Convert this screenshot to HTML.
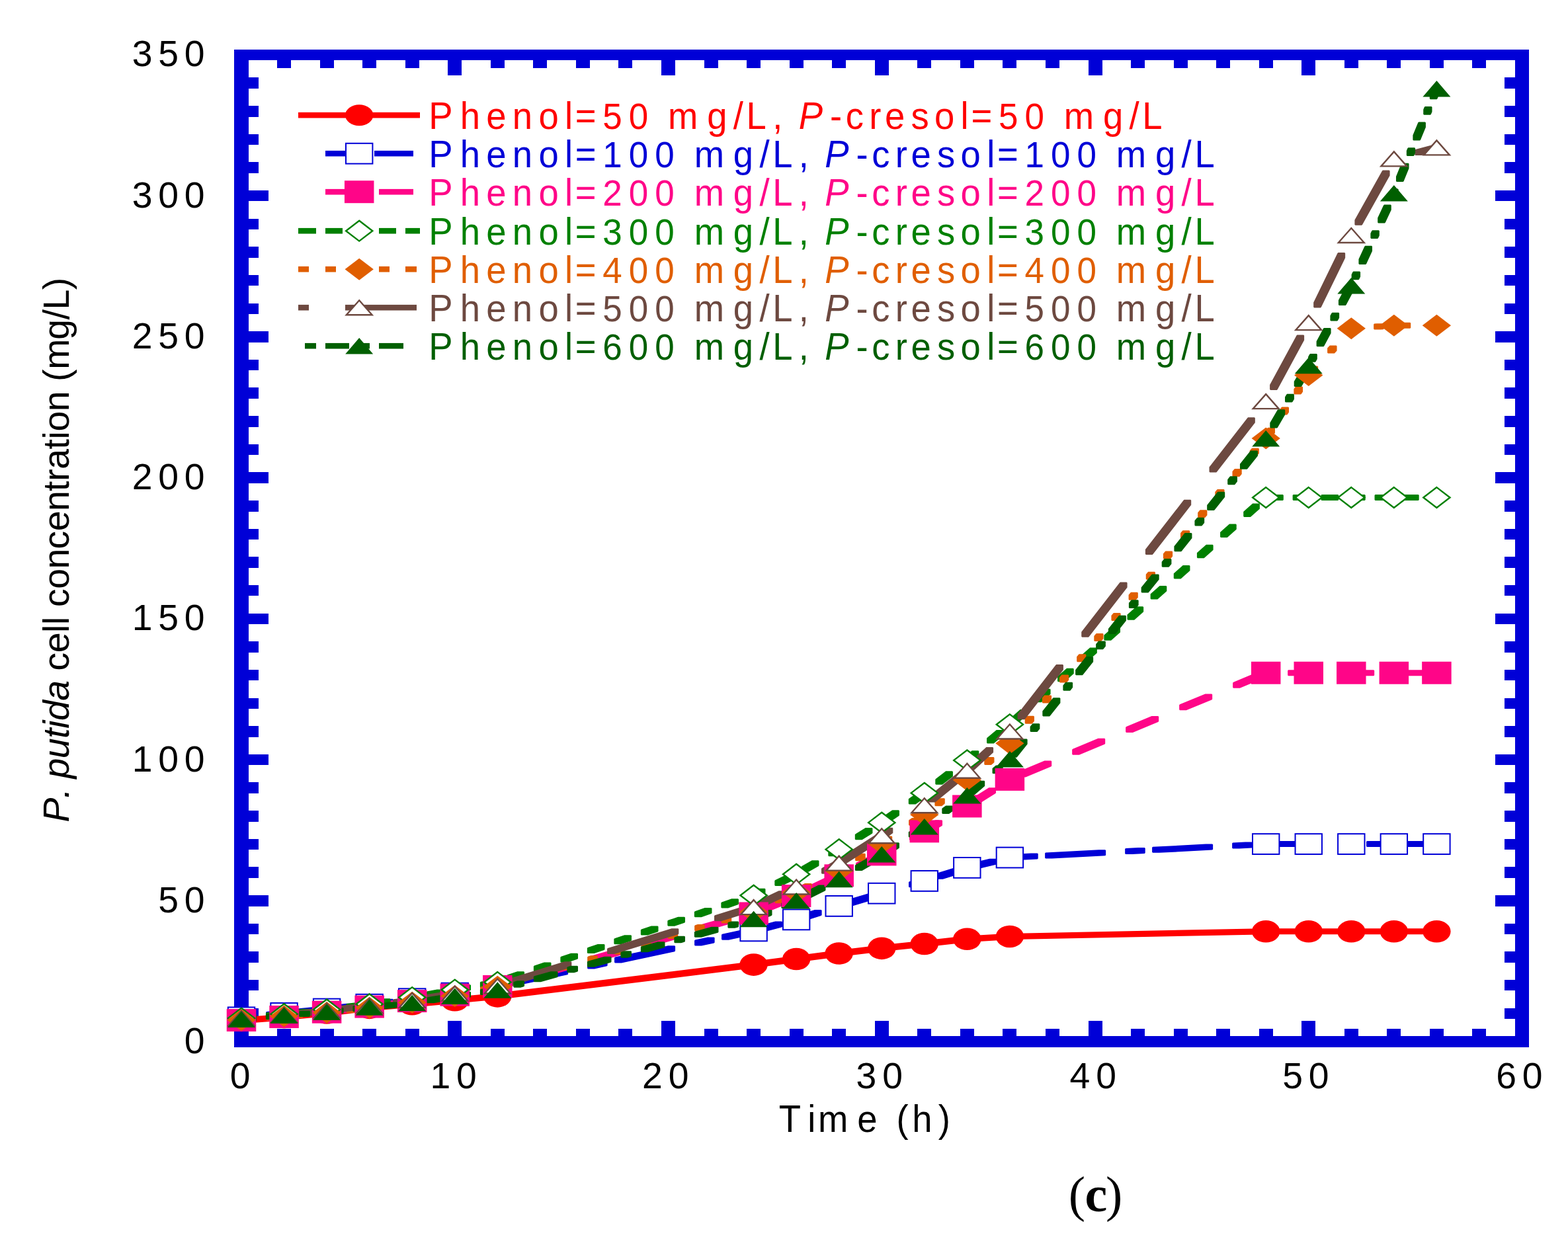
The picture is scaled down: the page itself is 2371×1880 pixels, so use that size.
<!DOCTYPE html><html><head><meta charset="utf-8"><title>P. putida cell concentration</title>
<style>html,body{margin:0;padding:0;background:#fff;overflow:hidden}svg{display:block}</style></head><body>
<svg width="2371" height="1880" viewBox="0 0 2371 1880">
<rect width="2371" height="1880" fill="#fff"/>
<g fill="#0000d7" shape-rendering="crispEdges">
<rect x="354" y="75" width="22" height="1509"/>
<rect x="2291" y="75" width="21" height="1509"/>
<rect x="354" y="75" width="1958" height="16"/>
<rect x="354" y="1567" width="1958" height="17"/>
<rect x="419.05" y="1556" width="21" height="11"/>
<rect x="419.05" y="91" width="21" height="12"/>
<rect x="483.6" y="1556" width="21" height="11"/>
<rect x="483.6" y="91" width="21" height="12"/>
<rect x="548.15" y="1556" width="21" height="11"/>
<rect x="548.15" y="91" width="21" height="12"/>
<rect x="612.7" y="1556" width="21" height="11"/>
<rect x="612.7" y="91" width="21" height="12"/>
<rect x="677.25" y="1544" width="21" height="23"/>
<rect x="677.25" y="91" width="21" height="23"/>
<rect x="741.8" y="1556" width="21" height="11"/>
<rect x="741.8" y="91" width="21" height="12"/>
<rect x="806.35" y="1556" width="21" height="11"/>
<rect x="806.35" y="91" width="21" height="12"/>
<rect x="870.9" y="1556" width="21" height="11"/>
<rect x="870.9" y="91" width="21" height="12"/>
<rect x="935.45" y="1556" width="21" height="11"/>
<rect x="935.45" y="91" width="21" height="12"/>
<rect x="1000" y="1544" width="21" height="23"/>
<rect x="1000" y="91" width="21" height="23"/>
<rect x="1064.55" y="1556" width="21" height="11"/>
<rect x="1064.55" y="91" width="21" height="12"/>
<rect x="1129.1" y="1556" width="21" height="11"/>
<rect x="1129.1" y="91" width="21" height="12"/>
<rect x="1193.65" y="1556" width="21" height="11"/>
<rect x="1193.65" y="91" width="21" height="12"/>
<rect x="1258.2" y="1556" width="21" height="11"/>
<rect x="1258.2" y="91" width="21" height="12"/>
<rect x="1322.75" y="1544" width="21" height="23"/>
<rect x="1322.75" y="91" width="21" height="23"/>
<rect x="1387.3" y="1556" width="21" height="11"/>
<rect x="1387.3" y="91" width="21" height="12"/>
<rect x="1451.85" y="1556" width="21" height="11"/>
<rect x="1451.85" y="91" width="21" height="12"/>
<rect x="1516.4" y="1556" width="21" height="11"/>
<rect x="1516.4" y="91" width="21" height="12"/>
<rect x="1580.95" y="1556" width="21" height="11"/>
<rect x="1580.95" y="91" width="21" height="12"/>
<rect x="1645.5" y="1544" width="21" height="23"/>
<rect x="1645.5" y="91" width="21" height="23"/>
<rect x="1710.05" y="1556" width="21" height="11"/>
<rect x="1710.05" y="91" width="21" height="12"/>
<rect x="1774.6" y="1556" width="21" height="11"/>
<rect x="1774.6" y="91" width="21" height="12"/>
<rect x="1839.15" y="1556" width="21" height="11"/>
<rect x="1839.15" y="91" width="21" height="12"/>
<rect x="1903.7" y="1556" width="21" height="11"/>
<rect x="1903.7" y="91" width="21" height="12"/>
<rect x="1968.25" y="1544" width="21" height="23"/>
<rect x="1968.25" y="91" width="21" height="23"/>
<rect x="2032.8" y="1556" width="21" height="11"/>
<rect x="2032.8" y="91" width="21" height="12"/>
<rect x="2097.35" y="1556" width="21" height="11"/>
<rect x="2097.35" y="91" width="21" height="12"/>
<rect x="2161.9" y="1556" width="21" height="11"/>
<rect x="2161.9" y="91" width="21" height="12"/>
<rect x="2226.45" y="1556" width="21" height="11"/>
<rect x="2226.45" y="91" width="21" height="12"/>
<rect x="376" y="1524.61" width="15" height="16.5"/>
<rect x="2275" y="1524.61" width="16" height="16.5"/>
<rect x="376" y="1481.96" width="15" height="16.5"/>
<rect x="2275" y="1481.96" width="16" height="16.5"/>
<rect x="376" y="1439.32" width="15" height="16.5"/>
<rect x="2275" y="1439.32" width="16" height="16.5"/>
<rect x="376" y="1396.68" width="15" height="16.5"/>
<rect x="2275" y="1396.68" width="16" height="16.5"/>
<rect x="376" y="1354.03" width="30" height="16.5"/>
<rect x="2261" y="1354.03" width="30" height="16.5"/>
<rect x="376" y="1311.39" width="15" height="16.5"/>
<rect x="2275" y="1311.39" width="16" height="16.5"/>
<rect x="376" y="1268.75" width="15" height="16.5"/>
<rect x="2275" y="1268.75" width="16" height="16.5"/>
<rect x="376" y="1226.11" width="15" height="16.5"/>
<rect x="2275" y="1226.11" width="16" height="16.5"/>
<rect x="376" y="1183.46" width="15" height="16.5"/>
<rect x="2275" y="1183.46" width="16" height="16.5"/>
<rect x="376" y="1140.82" width="30" height="16.5"/>
<rect x="2261" y="1140.82" width="30" height="16.5"/>
<rect x="376" y="1098.18" width="15" height="16.5"/>
<rect x="2275" y="1098.18" width="16" height="16.5"/>
<rect x="376" y="1055.53" width="15" height="16.5"/>
<rect x="2275" y="1055.53" width="16" height="16.5"/>
<rect x="376" y="1012.89" width="15" height="16.5"/>
<rect x="2275" y="1012.89" width="16" height="16.5"/>
<rect x="376" y="970.25" width="15" height="16.5"/>
<rect x="2275" y="970.25" width="16" height="16.5"/>
<rect x="376" y="927.6" width="30" height="16.5"/>
<rect x="2261" y="927.6" width="30" height="16.5"/>
<rect x="376" y="884.96" width="15" height="16.5"/>
<rect x="2275" y="884.96" width="16" height="16.5"/>
<rect x="376" y="842.32" width="15" height="16.5"/>
<rect x="2275" y="842.32" width="16" height="16.5"/>
<rect x="376" y="799.68" width="15" height="16.5"/>
<rect x="2275" y="799.68" width="16" height="16.5"/>
<rect x="376" y="757.03" width="15" height="16.5"/>
<rect x="2275" y="757.03" width="16" height="16.5"/>
<rect x="376" y="714.39" width="30" height="16.5"/>
<rect x="2261" y="714.39" width="30" height="16.5"/>
<rect x="376" y="671.75" width="15" height="16.5"/>
<rect x="2275" y="671.75" width="16" height="16.5"/>
<rect x="376" y="629.1" width="15" height="16.5"/>
<rect x="2275" y="629.1" width="16" height="16.5"/>
<rect x="376" y="586.46" width="15" height="16.5"/>
<rect x="2275" y="586.46" width="16" height="16.5"/>
<rect x="376" y="543.82" width="15" height="16.5"/>
<rect x="2275" y="543.82" width="16" height="16.5"/>
<rect x="376" y="501.17" width="30" height="16.5"/>
<rect x="2261" y="501.17" width="30" height="16.5"/>
<rect x="376" y="458.53" width="15" height="16.5"/>
<rect x="2275" y="458.53" width="16" height="16.5"/>
<rect x="376" y="415.89" width="15" height="16.5"/>
<rect x="2275" y="415.89" width="16" height="16.5"/>
<rect x="376" y="373.25" width="15" height="16.5"/>
<rect x="2275" y="373.25" width="16" height="16.5"/>
<rect x="376" y="330.6" width="15" height="16.5"/>
<rect x="2275" y="330.6" width="16" height="16.5"/>
<rect x="376" y="287.96" width="30" height="16.5"/>
<rect x="2261" y="287.96" width="30" height="16.5"/>
<rect x="376" y="245.32" width="15" height="16.5"/>
<rect x="2275" y="245.32" width="16" height="16.5"/>
<rect x="376" y="202.67" width="15" height="16.5"/>
<rect x="2275" y="202.67" width="16" height="16.5"/>
<rect x="376" y="160.03" width="15" height="16.5"/>
<rect x="2275" y="160.03" width="16" height="16.5"/>
<rect x="376" y="117.39" width="15" height="16.5"/>
<rect x="2275" y="117.39" width="16" height="16.5"/>
</g>
<g font-family="'Liberation Sans', Arial, sans-serif">
<text y="1593.5" fill="#000" font-size="56" transform="scale(0.98750,1)"><tspan x="282.29">0</tspan></text>
<text y="1380.5" fill="#000" font-size="56" transform="scale(0.98750,1)"><tspan x="242.24 282.29">50</tspan></text>
<text y="1167.5" fill="#000" font-size="56" transform="scale(0.98750,1)"><tspan x="202.2 242.24 282.29">100</tspan></text>
<text y="953.5" fill="#000" font-size="56" transform="scale(0.98750,1)"><tspan x="202.2 242.24 282.29">150</tspan></text>
<text y="740.5" fill="#000" font-size="56" transform="scale(0.98750,1)"><tspan x="202.2 242.24 282.29">200</tspan></text>
<text y="527.5" fill="#000" font-size="56" transform="scale(0.98750,1)"><tspan x="202.2 242.24 282.29">250</tspan></text>
<text y="314.5" fill="#000" font-size="56" transform="scale(0.98750,1)"><tspan x="202.2 242.24 282.29">300</tspan></text>
<text y="100.5" fill="#000" font-size="56" transform="scale(0.98750,1)"><tspan x="202.2 242.24 282.29">350</tspan></text>
<text y="1646.5" fill="#000" font-size="56" transform="scale(0.98750,1)"><tspan x="352.2">0</tspan></text>
<text y="1646.5" fill="#000" font-size="56" transform="scale(0.98750,1)"><tspan x="658.73 698.78">10</tspan></text>
<text y="1646.5" fill="#000" font-size="56" transform="scale(0.98750,1)"><tspan x="983.39 1023.44">20</tspan></text>
<text y="1646.5" fill="#000" font-size="56" transform="scale(0.98750,1)"><tspan x="1310.99 1351.03">30</tspan></text>
<text y="1646.5" fill="#000" font-size="56" transform="scale(0.98750,1)"><tspan x="1638.08 1678.12">40</tspan></text>
<text y="1646.5" fill="#000" font-size="56" transform="scale(0.98750,1)"><tspan x="1963.85 2003.89">50</tspan></text>
<text y="1646.5" fill="#000" font-size="56" transform="scale(0.98750,1)"><tspan x="2290.84 2330.88">60</tspan></text>
<text y="1712" fill="#000" font-size="56.5" transform="scale(0.96300,1)"><tspan x="1223.03 1268.13 1284.53 1346.03 1387.09 1407.61 1432.19 1473.26">Time (h)</tspan></text>
</g>
<g transform="translate(104,1243.75) rotate(-90)" font-family="'Liberation Sans', Arial, sans-serif">
<text y="0" fill="#000" font-size="55.5"><tspan x="0 36.2 51.28 66.36 96.55 126.74 141.82 153.88 184.07" font-style="italic">P. putida</tspan><tspan x="214.25 229.33 256.47 286.66 298.72 310.78 325.86 353 383.19 413.37 440.51 470.7 500.89 515.97 534.04 564.23 579.31 591.37 621.56 651.75 666.83 684.9 730.12 760.3 775.38 805.57"> cell concentration (mg/L)</tspan></text>
</g>
<path fill="#ff0000" d="M359.15 1540.02 L360.15 1539.02 L424.7 1533.9 L434.4 1533.9 L435.4 1534.9 L435.4 1541.9 L434.4 1542.9 L369.85 1548.02 L360.15 1548.02 L359.15 1547.02Z M423.7 1534.9 L424.7 1533.9 L489.25 1527.5 L498.95 1527.5 L499.95 1528.5 L499.95 1535.5 L498.95 1536.5 L434.4 1542.9 L424.7 1542.9 L423.7 1541.9Z M488.25 1528.5 L489.25 1527.5 L553.8 1519.83 L563.5 1519.83 L564.5 1520.83 L564.5 1527.83 L563.5 1528.83 L498.95 1536.5 L489.25 1536.5 L488.25 1535.5Z M552.8 1520.83 L553.8 1519.83 L618.35 1514.29 L628.05 1514.29 L629.05 1515.29 L629.05 1522.29 L628.05 1523.29 L563.5 1528.83 L553.8 1528.83 L552.8 1527.83Z M617.35 1515.29 L618.35 1514.29 L682.9 1508.32 L692.6 1508.32 L693.6 1509.32 L693.6 1516.32 L692.6 1517.32 L628.05 1523.29 L618.35 1523.29 L617.35 1522.29Z M681.9 1509.32 L682.9 1508.32 L747.45 1502.35 L757.15 1502.35 L758.15 1503.35 L758.15 1510.35 L757.15 1511.35 L692.6 1517.32 L682.9 1517.32 L681.9 1516.32Z M746.45 1503.35 L747.45 1502.35 L1134.75 1454.59 L1144.45 1454.59 L1145.45 1455.59 L1145.45 1462.59 L1144.45 1463.59 L757.15 1511.35 L747.45 1511.35 L746.45 1510.35Z M1133.75 1455.59 L1134.75 1454.59 L1199.3 1446.06 L1209 1446.06 L1210 1447.06 L1210 1454.06 L1209 1455.06 L1144.45 1463.59 L1134.75 1463.59 L1133.75 1462.59Z M1198.3 1447.06 L1199.3 1446.06 L1263.85 1437.53 L1273.55 1437.53 L1274.55 1438.53 L1274.55 1445.53 L1273.55 1446.53 L1209 1455.06 L1199.3 1455.06 L1198.3 1454.06Z M1262.85 1438.53 L1263.85 1437.53 L1328.4 1429.85 L1338.1 1429.85 L1339.1 1430.85 L1339.1 1437.85 L1338.1 1438.85 L1273.55 1446.53 L1263.85 1446.53 L1262.85 1445.53Z M1327.4 1430.85 L1328.4 1429.85 L1392.95 1423.03 L1402.65 1423.03 L1403.65 1424.03 L1403.65 1431.03 L1402.65 1432.03 L1338.1 1438.85 L1328.4 1438.85 L1327.4 1437.85Z M1391.95 1424.03 L1392.95 1423.03 L1457.5 1415.78 L1467.2 1415.78 L1468.2 1416.78 L1468.2 1423.78 L1467.2 1424.78 L1402.65 1432.03 L1392.95 1432.03 L1391.95 1431.03Z M1456.5 1416.78 L1457.5 1415.78 L1522.05 1411.94 L1531.75 1411.94 L1532.75 1412.94 L1532.75 1419.94 L1531.75 1420.94 L1467.2 1424.78 L1457.5 1424.78 L1456.5 1423.78Z M1521.05 1412.94 L1522.05 1411.94 L1909.35 1404.27 L1919.05 1404.27 L1920.05 1405.27 L1920.05 1412.27 L1919.05 1413.27 L1531.75 1420.94 L1522.05 1420.94 L1521.05 1419.94Z M1908.35 1405.27 L1909.35 1404.27 L1983.6 1404.27 L1984.6 1405.27 L1984.6 1412.27 L1983.6 1413.27 L1909.35 1413.27 L1908.35 1412.27Z M1972.9 1405.27 L1973.9 1404.27 L2048.15 1404.27 L2049.15 1405.27 L2049.15 1412.27 L2048.15 1413.27 L1973.9 1413.27 L1972.9 1412.27Z M2037.45 1405.27 L2038.45 1404.27 L2112.7 1404.27 L2113.7 1405.27 L2113.7 1412.27 L2112.7 1413.27 L2038.45 1413.27 L2037.45 1412.27Z M2102 1405.27 L2103 1404.27 L2177.25 1404.27 L2178.25 1405.27 L2178.25 1412.27 L2177.25 1413.27 L2103 1413.27 L2102 1412.27Z"/>
<path fill="#0000d7" d="M359.15 1535.33 L360.15 1534.33 L362.47 1534.1 L372.17 1534.1 L373.17 1535.1 L373.17 1542.1 L372.17 1543.1 L369.85 1543.33 L360.15 1543.33 L359.15 1542.33Z M402.16 1531.07 L403.16 1530.07 L422.01 1528.2 L431.71 1528.2 L432.71 1529.2 L432.71 1536.2 L431.71 1537.2 L412.86 1539.07 L403.16 1539.07 L402.16 1538.07Z M443.11 1527.01 L444.11 1526.01 L489.25 1521.53 L498.95 1521.53 L499.95 1522.53 L499.95 1529.53 L498.95 1530.53 L453.81 1535.01 L444.11 1535.01 L443.11 1534.01Z M488.25 1522.53 L489.25 1521.53 L524.45 1517.81 L534.15 1517.81 L535.15 1518.81 L535.15 1525.81 L534.15 1526.81 L498.95 1530.53 L489.25 1530.53 L488.25 1529.53Z M564.14 1514.21 L565.14 1513.21 L583.99 1510.72 L593.69 1510.72 L594.69 1511.72 L594.69 1518.72 L593.69 1519.72 L574.84 1522.21 L565.14 1522.21 L564.14 1521.21Z M605.09 1508.8 L606.09 1507.8 L618.35 1506.18 L628.05 1506.18 L629.05 1507.18 L629.05 1514.18 L628.05 1515.18 L615.79 1516.8 L606.09 1516.8 L605.09 1515.8Z M617.35 1507.18 L618.35 1506.18 L682.9 1497.65 L692.6 1497.65 L693.6 1498.65 L693.6 1505.65 L692.6 1506.65 L628.05 1515.18 L618.35 1515.18 L617.35 1514.18Z M681.9 1498.65 L682.9 1497.65 L686.43 1497.07 L696.13 1497.07 L697.13 1498.07 L697.13 1505.07 L696.13 1506.07 L692.6 1506.65 L682.9 1506.65 L681.9 1505.65Z M726.12 1491.35 L727.12 1490.35 L745.97 1487.24 L755.67 1487.24 L756.67 1488.24 L756.67 1495.24 L755.67 1496.24 L736.82 1499.35 L727.12 1499.35 L726.12 1498.35Z M767.07 1483.54 L768.07 1482.54 L848.41 1465.21 L858.11 1465.21 L859.11 1466.21 L859.11 1473.21 L858.11 1474.21 L777.77 1491.54 L768.07 1491.54 L767.07 1490.54Z M888.1 1457.42 L889.1 1456.42 L907.95 1452.36 L917.65 1452.36 L918.65 1453.36 L918.65 1460.36 L917.65 1461.36 L898.8 1465.42 L889.1 1465.42 L888.1 1464.42Z M929.05 1448.59 L930.05 1447.59 L1010.39 1430.25 L1020.09 1430.25 L1021.09 1431.25 L1021.09 1438.25 L1020.09 1439.25 L939.75 1456.59 L930.05 1456.59 L929.05 1455.59Z M1050.08 1422.47 L1051.08 1421.47 L1069.93 1417.4 L1079.63 1417.4 L1080.63 1418.4 L1080.63 1425.4 L1079.63 1426.4 L1060.78 1430.47 L1051.08 1430.47 L1050.08 1429.47Z M1091.03 1413.63 L1092.03 1412.63 L1134.75 1403.41 L1144.45 1403.41 L1145.45 1404.41 L1145.45 1411.41 L1144.45 1412.41 L1101.73 1421.63 L1092.03 1421.63 L1091.03 1420.63Z M1133.75 1404.41 L1134.75 1403.41 L1172.37 1393.47 L1182.07 1393.47 L1183.07 1394.47 L1183.07 1401.47 L1182.07 1402.47 L1144.45 1412.41 L1134.75 1412.41 L1133.75 1411.41Z M1212.06 1382.99 L1213.06 1381.99 L1231.91 1376.02 L1241.61 1376.02 L1242.61 1377.02 L1242.61 1384.02 L1241.61 1385.02 L1222.76 1390.99 L1213.06 1390.99 L1212.06 1389.99Z M1253.01 1370.01 L1254.01 1369.01 L1263.85 1365.89 L1273.55 1365.89 L1274.55 1366.89 L1274.55 1373.89 L1273.55 1374.89 L1263.71 1378.01 L1254.01 1378.01 L1253.01 1377.01Z M1262.85 1366.89 L1263.85 1365.89 L1328.4 1346.7 L1338.1 1346.7 L1339.1 1347.7 L1339.1 1354.7 L1338.1 1355.7 L1273.55 1374.89 L1263.85 1374.89 L1262.85 1373.89Z M1327.4 1347.7 L1328.4 1346.7 L1334.35 1344.97 L1344.05 1344.97 L1345.05 1345.97 L1345.05 1352.97 L1344.05 1353.97 L1338.1 1355.7 L1328.4 1355.7 L1327.4 1354.7Z M1374.04 1334.14 L1375.04 1333.14 L1392.95 1327.93 L1402.65 1327.93 L1403.65 1328.93 L1403.65 1335.93 L1402.65 1336.93 L1384.74 1342.14 L1375.04 1342.14 L1374.04 1341.14Z M1391.95 1328.93 L1392.95 1327.93 L1393.89 1327.64 L1403.59 1327.64 L1404.59 1328.64 L1404.59 1335.64 L1403.59 1336.64 L1402.65 1336.93 L1392.95 1336.93 L1391.95 1335.93Z M1414.99 1321.78 L1415.99 1320.78 L1457.5 1307.89 L1467.2 1307.89 L1468.2 1308.89 L1468.2 1315.89 L1467.2 1316.89 L1425.69 1329.78 L1415.99 1329.78 L1414.99 1328.78Z M1456.5 1308.89 L1457.5 1307.89 L1496.33 1298.66 L1506.03 1298.66 L1507.03 1299.66 L1507.03 1306.66 L1506.03 1307.66 L1467.2 1316.89 L1457.5 1316.89 L1456.5 1315.89Z M1539.17 1292.58 L1540.17 1291.58 L1559.02 1290.59 L1568.72 1290.59 L1569.72 1291.59 L1569.72 1298.59 L1568.72 1299.59 L1549.87 1300.58 L1540.17 1300.58 L1539.17 1299.58Z M1580.12 1290.42 L1581.12 1289.42 L1661.46 1285.17 L1671.16 1285.17 L1672.16 1286.17 L1672.16 1293.17 L1671.16 1294.17 L1590.82 1298.42 L1581.12 1298.42 L1580.12 1297.42Z M1701.15 1284.02 L1702.15 1283.02 L1721 1282.03 L1730.7 1282.03 L1731.7 1283.03 L1731.7 1290.03 L1730.7 1291.03 L1711.85 1292.02 L1702.15 1292.02 L1701.15 1291.02Z M1742.1 1281.86 L1743.1 1280.86 L1823.44 1276.61 L1833.14 1276.61 L1834.14 1277.61 L1834.14 1284.61 L1833.14 1285.61 L1752.8 1289.86 L1743.1 1289.86 L1742.1 1288.86Z M1863.13 1275.46 L1864.13 1274.46 L1882.98 1273.47 L1892.68 1273.47 L1893.68 1274.47 L1893.68 1281.47 L1892.68 1282.47 L1873.83 1283.46 L1864.13 1283.46 L1863.13 1282.46Z M1904.08 1273.3 L1905.08 1272.3 L1909.35 1272.07 L1919.05 1272.07 L1920.05 1273.07 L1920.05 1280.07 L1919.05 1281.07 L1914.78 1281.3 L1905.08 1281.3 L1904.08 1280.3Z M1908.35 1273.07 L1909.35 1272.07 L1983.6 1272.07 L1984.6 1273.07 L1984.6 1280.07 L1983.6 1281.07 L1909.35 1281.07 L1908.35 1280.07Z M1972.9 1273.07 L1973.9 1272.07 L1995.12 1272.07 L1996.12 1273.07 L1996.12 1280.07 L1995.12 1281.07 L1973.9 1281.07 L1972.9 1280.07Z M2025.11 1273.07 L2026.11 1272.07 L2048.15 1272.07 L2049.15 1273.07 L2049.15 1280.07 L2048.15 1281.07 L2026.11 1281.07 L2025.11 1280.07Z M2037.45 1273.07 L2038.45 1272.07 L2054.66 1272.07 L2055.66 1273.07 L2055.66 1280.07 L2054.66 1281.07 L2038.45 1281.07 L2037.45 1280.07Z M2066.06 1273.07 L2067.06 1272.07 L2112.7 1272.07 L2113.7 1273.07 L2113.7 1280.07 L2112.7 1281.07 L2067.06 1281.07 L2066.06 1280.07Z M2102 1273.07 L2103 1272.07 L2157.1 1272.07 L2158.1 1273.07 L2158.1 1280.07 L2157.1 1281.07 L2103 1281.07 L2102 1280.07Z"/>
<path fill="#ff0588" d="M359.15 1539.59 L360.15 1538.59 L361.48 1538.49 L371.18 1538.49 L372.18 1539.49 L372.18 1546.49 L371.18 1547.49 L369.85 1547.59 L360.15 1547.59 L359.15 1546.59Z M403.12 1536.11 L404.12 1535.11 L424.7 1533.47 L434.4 1533.47 L435.4 1534.47 L435.4 1541.47 L434.4 1542.47 L413.82 1544.11 L404.12 1544.11 L403.12 1543.11Z M423.7 1534.47 L424.7 1533.47 L442.47 1531.48 L452.17 1531.48 L453.17 1532.48 L453.17 1539.48 L452.17 1540.48 L434.4 1542.47 L424.7 1542.47 L423.7 1541.47Z M484.11 1527.69 L485.11 1526.69 L489.25 1526.22 L498.95 1526.22 L499.95 1527.22 L499.95 1534.22 L498.95 1535.22 L494.81 1535.69 L485.11 1535.69 L484.11 1534.69Z M488.25 1527.22 L489.25 1526.22 L523.46 1521.93 L533.16 1521.93 L534.16 1522.93 L534.16 1529.93 L533.16 1530.93 L498.95 1535.22 L489.25 1535.22 L488.25 1534.22Z M565.1 1517.5 L566.1 1516.5 L604.45 1511.43 L614.15 1511.43 L615.15 1512.43 L615.15 1519.43 L614.15 1520.43 L575.8 1525.5 L566.1 1525.5 L565.1 1524.5Z M646.09 1506.42 L647.09 1505.42 L682.9 1500.21 L692.6 1500.21 L693.6 1501.21 L693.6 1508.21 L692.6 1509.21 L656.79 1514.42 L647.09 1514.42 L646.09 1513.42Z M681.9 1501.21 L682.9 1500.21 L685.44 1499.71 L695.14 1499.71 L696.14 1500.71 L696.14 1507.71 L695.14 1508.71 L692.6 1509.21 L682.9 1509.21 L681.9 1508.21Z M727.08 1492.26 L728.08 1491.26 L747.45 1487.42 L757.15 1487.42 L758.15 1488.42 L758.15 1495.42 L757.15 1496.42 L737.78 1500.26 L728.08 1500.26 L727.08 1499.26Z M746.45 1488.42 L747.45 1487.42 L766.43 1482.01 L776.13 1482.01 L777.13 1483.01 L777.13 1490.01 L776.13 1491.01 L757.15 1496.42 L747.45 1496.42 L746.45 1495.42Z M808.07 1470.85 L809.07 1469.85 L847.42 1458.91 L857.12 1458.91 L858.12 1459.91 L858.12 1466.91 L857.12 1467.91 L818.77 1478.85 L809.07 1478.85 L808.07 1477.85Z M889.06 1447.75 L890.06 1446.75 L928.41 1435.82 L938.11 1435.82 L939.11 1436.82 L939.11 1443.82 L938.11 1444.82 L899.76 1455.75 L890.06 1455.75 L889.06 1454.75Z M970.05 1424.66 L971.05 1423.66 L1009.4 1412.72 L1019.1 1412.72 L1020.1 1413.72 L1020.1 1420.72 L1019.1 1421.72 L980.75 1432.66 L971.05 1432.66 L970.05 1431.66Z M1051.04 1401.56 L1052.04 1400.56 L1090.39 1389.62 L1100.09 1389.62 L1101.09 1390.62 L1101.09 1397.62 L1100.09 1398.62 L1061.74 1409.56 L1052.04 1409.56 L1051.04 1408.56Z M1132.03 1378.46 L1133.03 1377.46 L1134.75 1376.97 L1144.45 1376.97 L1145.45 1377.97 L1145.45 1384.97 L1144.45 1385.97 L1142.73 1386.46 L1133.03 1386.46 L1132.03 1385.46Z M1133.75 1377.97 L1134.75 1376.97 L1171.38 1361.97 L1181.08 1361.97 L1182.08 1362.97 L1182.08 1369.97 L1181.08 1370.97 L1144.45 1385.97 L1134.75 1385.97 L1133.75 1384.97Z M1213.02 1344.53 L1214.02 1343.53 L1252.37 1325.29 L1262.07 1325.29 L1263.07 1326.29 L1263.07 1333.29 L1262.07 1334.29 L1223.72 1352.53 L1214.02 1352.53 L1213.02 1351.53Z M1294.01 1305.39 L1295.01 1304.39 L1328.4 1287.85 L1338.1 1287.85 L1339.1 1288.85 L1339.1 1295.85 L1338.1 1296.85 L1304.71 1313.39 L1295.01 1313.39 L1294.01 1312.39Z M1327.4 1288.85 L1328.4 1287.85 L1333.36 1285.16 L1343.06 1285.16 L1344.06 1286.16 L1344.06 1293.16 L1343.06 1294.16 L1338.1 1296.85 L1328.4 1296.85 L1327.4 1295.85Z M1375 1263.07 L1376 1262.07 L1392.95 1252.88 L1402.65 1252.88 L1403.65 1253.88 L1403.65 1260.88 L1402.65 1261.88 L1385.7 1271.07 L1376 1271.07 L1375 1270.07Z M1391.95 1253.88 L1392.95 1252.88 L1414.35 1240.3 L1424.05 1240.3 L1425.05 1241.3 L1425.05 1248.3 L1424.05 1249.3 L1402.65 1261.88 L1392.95 1261.88 L1391.95 1260.88Z M1455.99 1216.23 L1456.99 1215.23 L1457.5 1214.93 L1467.2 1214.93 L1468.2 1215.93 L1468.2 1222.93 L1467.2 1223.93 L1466.69 1224.23 L1456.99 1224.23 L1455.99 1223.23Z M1456.5 1215.93 L1457.5 1214.93 L1495.34 1191.18 L1505.04 1191.18 L1506.04 1192.18 L1506.04 1199.18 L1505.04 1200.18 L1467.2 1223.93 L1457.5 1223.93 L1456.5 1222.93Z M1540.16 1167.47 L1541.16 1166.47 L1579.51 1150.51 L1589.21 1150.51 L1590.21 1151.51 L1590.21 1158.51 L1589.21 1159.51 L1550.86 1175.47 L1541.16 1175.47 L1540.16 1174.47Z M1621.15 1133.76 L1622.15 1132.76 L1660.5 1116.8 L1670.2 1116.8 L1671.2 1117.8 L1671.2 1124.8 L1670.2 1125.8 L1631.85 1141.76 L1622.15 1141.76 L1621.15 1140.76Z M1702.14 1100.05 L1703.14 1099.05 L1741.49 1083.09 L1751.19 1083.09 L1752.19 1084.09 L1752.19 1091.09 L1751.19 1092.09 L1712.84 1108.05 L1703.14 1108.05 L1702.14 1107.05Z M1783.13 1066.35 L1784.13 1065.35 L1822.48 1049.38 L1832.18 1049.38 L1833.18 1050.38 L1833.18 1057.38 L1832.18 1058.38 L1793.83 1074.35 L1784.13 1074.35 L1783.13 1073.35Z M1864.12 1032.64 L1865.12 1031.64 L1903.47 1015.68 L1913.17 1015.68 L1914.17 1016.68 L1914.17 1023.68 L1913.17 1024.68 L1874.82 1040.64 L1865.12 1040.64 L1864.12 1039.64Z M1947.15 1014.23 L1948.15 1013.23 L1983.6 1013.23 L1984.6 1014.23 L1984.6 1021.23 L1983.6 1022.23 L1948.15 1022.23 L1947.15 1021.23Z M1972.9 1014.23 L1973.9 1013.23 L1996.2 1013.23 L1997.2 1014.23 L1997.2 1021.23 L1996.2 1022.23 L1973.9 1022.23 L1972.9 1021.23Z M2028.14 1014.23 L2029.14 1013.23 L2048.15 1013.23 L2049.15 1014.23 L2049.15 1021.23 L2048.15 1022.23 L2029.14 1022.23 L2028.14 1021.23Z M2037.45 1014.23 L2038.45 1013.23 L2077.19 1013.23 L2078.19 1014.23 L2078.19 1021.23 L2077.19 1022.23 L2038.45 1022.23 L2037.45 1021.23Z M2109.13 1014.23 L2110.13 1013.23 L2158.18 1013.23 L2159.18 1014.23 L2159.18 1021.23 L2158.18 1022.23 L2110.13 1022.23 L2109.13 1021.23Z"/>
<path fill="#008000" d="M361.43 1536.38 L362.43 1535.38 L377.38 1533.9 L387.07 1533.9 L388.07 1534.9 L388.07 1541.9 L387.07 1542.9 L372.12 1544.38 L362.43 1544.38 L361.43 1543.38Z M401.92 1532.37 L402.92 1531.37 L417.87 1529.89 L427.57 1529.89 L428.57 1530.89 L428.57 1537.89 L427.57 1538.89 L412.62 1540.37 L402.92 1540.37 L401.92 1539.37Z M442.42 1528.23 L443.42 1527.23 L458.37 1525.65 L468.06 1525.65 L469.06 1526.65 L469.06 1533.65 L468.06 1534.65 L453.12 1536.23 L443.42 1536.23 L442.42 1535.23Z M482.91 1523.95 L483.91 1522.95 L489.25 1522.39 L498.95 1522.39 L499.95 1523.39 L499.95 1530.39 L498.95 1531.39 L493.61 1531.95 L483.91 1531.95 L482.91 1530.95Z M488.25 1523.39 L489.25 1522.39 L498.86 1521.18 L508.56 1521.18 L509.56 1522.18 L509.56 1529.18 L508.56 1530.18 L498.95 1531.39 L489.25 1531.39 L488.25 1530.39Z M523.4 1518.97 L524.4 1517.97 L539.36 1516.1 L549.05 1516.1 L550.05 1517.1 L550.05 1524.1 L549.05 1525.1 L534.11 1526.97 L524.4 1526.97 L523.4 1525.97Z M563.9 1513.53 L564.9 1512.53 L579.85 1510.15 L589.55 1510.15 L590.55 1511.15 L590.55 1518.15 L589.55 1519.15 L574.6 1521.53 L564.9 1521.53 L563.9 1520.53Z M604.39 1507.1 L605.39 1506.1 L618.35 1504.05 L628.05 1504.05 L629.05 1505.05 L629.05 1512.05 L628.05 1513.05 L615.1 1515.1 L605.39 1515.1 L604.39 1514.1Z M617.35 1505.05 L618.35 1504.05 L620.35 1503.69 L630.04 1503.69 L631.04 1504.69 L631.04 1511.69 L630.04 1512.69 L628.05 1513.05 L618.35 1513.05 L617.35 1512.05Z M644.89 1500.14 L645.89 1499.14 L660.84 1496.47 L670.54 1496.47 L671.54 1497.47 L671.54 1504.47 L670.54 1505.47 L655.59 1508.14 L645.89 1508.14 L644.89 1507.14Z M685.38 1492.91 L686.38 1491.91 L701.34 1489.25 L711.03 1489.25 L712.03 1490.25 L712.03 1497.25 L711.03 1498.25 L696.09 1500.91 L686.38 1500.91 L685.38 1499.91Z M725.88 1485.69 L726.88 1484.69 L741.83 1482.03 L751.53 1482.03 L752.53 1483.03 L752.53 1490.03 L751.53 1491.03 L736.58 1493.69 L726.88 1493.69 L725.88 1492.69Z M766.38 1475.27 L767.38 1474.27 L782.33 1469.2 L792.02 1469.2 L793.02 1470.2 L793.02 1477.2 L792.02 1478.2 L777.08 1483.27 L767.38 1483.27 L766.38 1482.27Z M806.87 1461.53 L807.87 1460.53 L822.82 1455.46 L832.52 1455.46 L833.52 1456.46 L833.52 1463.46 L832.52 1464.46 L817.57 1469.53 L807.87 1469.53 L806.87 1468.53Z M847.37 1447.8 L848.37 1446.8 L863.32 1441.73 L873.01 1441.73 L874.01 1442.73 L874.01 1449.73 L873.01 1450.73 L858.07 1455.8 L848.37 1455.8 L847.37 1454.8Z M887.86 1434.07 L888.86 1433.07 L903.81 1428 L913.51 1428 L914.51 1429 L914.51 1436 L913.51 1437 L898.56 1442.07 L888.86 1442.07 L887.86 1441.07Z M928.36 1420.34 L929.36 1419.34 L944.3 1414.27 L954 1414.27 L955 1415.27 L955 1422.27 L954 1423.27 L939.05 1428.34 L929.36 1428.34 L928.36 1427.34Z M968.85 1406.6 L969.85 1405.6 L984.8 1400.53 L994.5 1400.53 L995.5 1401.53 L995.5 1408.53 L994.5 1409.53 L979.55 1414.6 L969.85 1414.6 L968.85 1413.6Z M1009.35 1392.87 L1010.35 1391.87 L1025.3 1386.8 L1034.99 1386.8 L1035.99 1387.8 L1035.99 1394.8 L1034.99 1395.8 L1020.04 1400.87 L1010.35 1400.87 L1009.35 1399.87Z M1049.84 1379.14 L1050.84 1378.14 L1065.79 1373.07 L1075.49 1373.07 L1076.49 1374.07 L1076.49 1381.07 L1075.49 1382.07 L1060.54 1387.14 L1050.84 1387.14 L1049.84 1386.14Z M1090.34 1365.41 L1091.34 1364.41 L1106.29 1359.34 L1115.98 1359.34 L1116.98 1360.34 L1116.98 1367.34 L1115.98 1368.34 L1101.04 1373.41 L1091.34 1373.41 L1090.34 1372.41Z M1130.83 1351.67 L1131.83 1350.67 L1134.75 1349.68 L1144.45 1349.68 L1145.45 1350.68 L1145.45 1357.68 L1144.45 1358.68 L1141.53 1359.67 L1131.83 1359.67 L1130.83 1358.67Z M1133.75 1350.68 L1134.75 1349.68 L1146.78 1343.72 L1156.48 1343.72 L1157.48 1344.72 L1157.48 1351.72 L1156.48 1352.72 L1144.45 1358.68 L1134.75 1358.68 L1133.75 1357.68Z M1171.33 1332.07 L1172.33 1331.07 L1187.28 1323.66 L1196.97 1323.66 L1197.97 1324.66 L1197.97 1331.66 L1196.97 1332.66 L1182.03 1340.07 L1172.33 1340.07 L1171.33 1339.07Z M1211.82 1310.84 L1212.82 1309.84 L1227.77 1301.15 L1237.47 1301.15 L1238.47 1302.15 L1238.47 1309.15 L1237.47 1310.15 L1222.52 1318.84 L1212.82 1318.84 L1211.82 1317.84Z M1252.32 1287.3 L1253.32 1286.3 L1263.85 1280.17 L1273.55 1280.17 L1274.55 1281.17 L1274.55 1288.17 L1273.55 1289.17 L1263.02 1295.3 L1253.32 1295.3 L1252.32 1294.3Z M1262.85 1281.17 L1263.85 1280.17 L1268.27 1277.4 L1277.96 1277.4 L1278.96 1278.4 L1278.96 1285.4 L1277.96 1286.4 L1273.55 1289.17 L1263.85 1289.17 L1262.85 1288.17Z M1292.81 1262.37 L1293.81 1261.37 L1308.76 1251.99 L1318.46 1251.99 L1319.46 1252.99 L1319.46 1259.99 L1318.46 1260.99 L1303.51 1270.37 L1293.81 1270.37 L1292.81 1269.37Z M1333.31 1236.57 L1334.31 1235.57 L1349.26 1225.2 L1358.95 1225.2 L1359.95 1226.2 L1359.95 1233.2 L1358.95 1234.2 L1344.01 1244.57 L1334.31 1244.57 L1333.31 1243.57Z M1373.8 1208.48 L1374.8 1207.48 L1389.75 1197.11 L1399.45 1197.11 L1400.45 1198.11 L1400.45 1205.11 L1399.45 1206.11 L1384.5 1216.48 L1374.8 1216.48 L1373.8 1215.48Z M1414.3 1178.77 L1415.3 1177.77 L1430.24 1166.31 L1439.94 1166.31 L1440.94 1167.31 L1440.94 1174.31 L1439.94 1175.31 L1424.99 1186.77 L1415.3 1186.77 L1414.3 1185.77Z M1454.79 1147.73 L1455.79 1146.73 L1457.5 1145.42 L1467.2 1145.42 L1468.2 1146.42 L1468.2 1153.42 L1467.2 1154.42 L1465.49 1155.73 L1455.79 1155.73 L1454.79 1154.73Z M1456.5 1146.42 L1457.5 1145.42 L1469.64 1135.24 L1479.34 1135.24 L1480.34 1136.24 L1480.34 1143.24 L1479.34 1144.24 L1467.2 1154.42 L1457.5 1154.42 L1456.5 1153.42Z M1492.06 1116.59 L1493.06 1115.59 L1506.77 1104.09 L1516.47 1104.09 L1517.47 1105.09 L1517.47 1112.09 L1516.47 1113.09 L1502.76 1124.59 L1493.06 1124.59 L1492.06 1123.59Z M1528.75 1085.44 L1529.75 1084.44 L1542.73 1072.94 L1552.43 1072.94 L1553.43 1073.94 L1553.43 1080.94 L1552.43 1081.94 L1539.45 1093.44 L1529.75 1093.44 L1528.75 1092.44Z M1563.9 1054.29 L1564.9 1053.29 L1577.87 1041.79 L1587.57 1041.79 L1588.57 1042.79 L1588.57 1049.79 L1587.57 1050.79 L1574.6 1062.29 L1564.9 1062.29 L1563.9 1061.29Z M1599.04 1023.14 L1600.04 1022.14 L1613.02 1010.64 L1622.72 1010.64 L1623.72 1011.64 L1623.72 1018.64 L1622.72 1019.64 L1609.74 1031.14 L1600.04 1031.14 L1599.04 1030.14Z M1634.19 991.99 L1635.19 990.99 L1648.16 979.49 L1657.86 979.49 L1658.86 980.49 L1658.86 987.49 L1657.86 988.49 L1644.89 999.99 L1635.19 999.99 L1634.19 998.99Z M1669.33 960.84 L1670.33 959.84 L1683.31 948.34 L1693.01 948.34 L1694.01 949.34 L1694.01 956.34 L1693.01 957.34 L1680.03 968.84 L1670.33 968.84 L1669.33 967.84Z M1704.48 929.69 L1705.48 928.69 L1718.45 917.19 L1728.15 917.19 L1729.15 918.19 L1729.15 925.19 L1728.15 926.19 L1715.18 937.69 L1705.48 937.69 L1704.48 936.69Z M1739.62 898.54 L1740.62 897.54 L1753.6 886.04 L1763.3 886.04 L1764.3 887.04 L1764.3 894.04 L1763.3 895.04 L1750.32 906.54 L1740.62 906.54 L1739.62 905.54Z M1774.77 867.39 L1775.77 866.39 L1788.74 854.89 L1798.44 854.89 L1799.44 855.89 L1799.44 862.89 L1798.44 863.89 L1785.47 875.39 L1775.77 875.39 L1774.77 874.39Z M1809.91 836.24 L1810.91 835.24 L1823.89 823.74 L1833.59 823.74 L1834.59 824.74 L1834.59 831.74 L1833.59 832.74 L1820.61 844.24 L1810.91 844.24 L1809.91 843.24Z M1845.06 805.09 L1846.06 804.09 L1859.03 792.59 L1868.73 792.59 L1869.73 793.59 L1869.73 800.59 L1868.73 801.59 L1855.76 813.09 L1846.06 813.09 L1845.06 812.09Z M1880.2 773.94 L1881.2 772.94 L1894.18 761.44 L1903.88 761.44 L1904.88 762.44 L1904.88 769.44 L1903.88 770.44 L1890.9 781.94 L1881.2 781.94 L1880.2 780.94Z M1914.15 748.99 L1915.15 747.99 L1939.8 747.99 L1940.8 748.99 L1940.8 755.99 L1939.8 756.99 L1915.15 756.99 L1914.15 755.99Z M1954.64 748.99 L1955.64 747.99 L1980.3 747.99 L1981.3 748.99 L1981.3 755.99 L1980.3 756.99 L1955.64 756.99 L1954.64 755.99Z M1997.55 748.99 L1998.55 747.99 L2023.2 747.99 L2024.2 748.99 L2024.2 755.99 L2023.2 756.99 L1998.55 756.99 L1997.55 755.99Z M2038.05 748.99 L2039.05 747.99 L2063.7 747.99 L2064.7 748.99 L2064.7 755.99 L2063.7 756.99 L2039.05 756.99 L2038.05 755.99Z M2078.54 748.99 L2079.54 747.99 L2104.19 747.99 L2105.19 748.99 L2105.19 755.99 L2104.19 756.99 L2079.54 756.99 L2078.54 755.99Z M2119.03 748.99 L2120.03 747.99 L2144.68 747.99 L2145.68 748.99 L2145.68 755.99 L2144.68 756.99 L2120.03 756.99 L2119.03 755.99Z M2159.53 748.99 L2160.53 747.99 L2177.25 747.99 L2178.25 748.99 L2178.25 755.99 L2177.25 756.99 L2160.53 756.99 L2159.53 755.99Z"/>
<path fill="#e05e00" d="M361.74 1538.94 L362.74 1537.94 L366.63 1537.61 L376.33 1537.61 L377.33 1538.61 L377.33 1545.61 L376.33 1546.61 L372.44 1546.94 L362.74 1546.94 L361.74 1545.94Z M402.23 1535.46 L403.23 1534.46 L407.13 1534.13 L416.83 1534.13 L417.83 1535.13 L417.83 1542.13 L416.83 1543.13 L412.93 1543.46 L403.23 1543.46 L402.23 1542.46Z M442.73 1531.99 L443.73 1530.99 L447.62 1530.65 L457.32 1530.65 L458.32 1531.65 L458.32 1538.65 L457.32 1539.65 L453.43 1539.99 L443.73 1539.99 L442.73 1538.99Z M483.22 1528.51 L484.22 1527.51 L488.12 1527.17 L497.82 1527.17 L498.82 1528.17 L498.82 1535.17 L497.82 1536.17 L493.92 1536.51 L484.22 1536.51 L483.22 1535.51Z M523.72 1524.1 L524.72 1523.1 L528.62 1522.66 L538.32 1522.66 L539.32 1523.66 L539.32 1530.66 L538.32 1531.66 L534.41 1532.1 L524.72 1532.1 L523.72 1531.1Z M564.21 1519.4 L565.21 1518.4 L569.11 1517.91 L578.81 1517.91 L579.81 1518.91 L579.81 1525.91 L578.81 1526.91 L574.91 1527.4 L565.21 1527.4 L564.21 1526.4Z M604.71 1514.31 L605.71 1513.31 L609.61 1512.82 L619.3 1512.82 L620.3 1513.82 L620.3 1520.82 L619.3 1521.82 L615.4 1522.31 L605.71 1522.31 L604.71 1521.31Z M645.2 1508.49 L646.2 1507.49 L650.1 1506.9 L659.8 1506.9 L660.8 1507.9 L660.8 1514.9 L659.8 1515.9 L655.9 1516.49 L646.2 1516.49 L645.2 1515.49Z M685.7 1502.09 L686.7 1501.09 L690.6 1500.24 L700.29 1500.24 L701.29 1501.24 L701.29 1508.24 L700.29 1509.24 L696.39 1510.09 L686.7 1510.09 L685.7 1509.09Z M726.19 1493.26 L727.19 1492.26 L731.09 1491.41 L740.79 1491.41 L741.79 1492.41 L741.79 1499.41 L740.79 1500.41 L736.89 1501.26 L727.19 1501.26 L726.19 1500.26Z M766.68 1482.94 L767.68 1481.94 L771.59 1480.8 L781.28 1480.8 L782.28 1481.8 L782.28 1488.8 L781.28 1489.8 L777.38 1490.94 L767.68 1490.94 L766.68 1489.94Z M807.18 1471.13 L808.18 1470.13 L812.08 1468.99 L821.78 1468.99 L822.78 1469.99 L822.78 1476.99 L821.78 1477.99 L817.88 1479.13 L808.18 1479.13 L807.18 1478.13Z M847.67 1459.31 L848.67 1458.31 L852.58 1457.17 L862.27 1457.17 L863.27 1458.17 L863.27 1465.17 L862.27 1466.17 L858.38 1467.31 L848.67 1467.31 L847.67 1466.31Z M888.17 1447.5 L889.17 1446.5 L893.07 1445.36 L902.77 1445.36 L903.77 1446.36 L903.77 1453.36 L902.77 1454.36 L898.87 1455.5 L889.17 1455.5 L888.17 1454.5Z M928.66 1435.68 L929.66 1434.68 L933.57 1433.54 L943.26 1433.54 L944.26 1434.54 L944.26 1441.54 L943.26 1442.54 L939.37 1443.68 L929.66 1443.68 L928.66 1442.68Z M969.16 1423.87 L970.16 1422.87 L974.06 1421.73 L983.76 1421.73 L984.76 1422.73 L984.76 1429.73 L983.76 1430.73 L979.86 1431.87 L970.16 1431.87 L969.16 1430.87Z M1009.65 1412.05 L1010.65 1411.05 L1014.55 1409.91 L1024.26 1409.91 L1025.26 1410.91 L1025.26 1417.91 L1024.26 1418.91 L1020.36 1420.05 L1010.65 1420.05 L1009.65 1419.05Z M1050.15 1400.23 L1051.15 1399.23 L1055.05 1398.1 L1064.75 1398.1 L1065.75 1399.1 L1065.75 1406.1 L1064.75 1407.1 L1060.85 1408.23 L1051.15 1408.23 L1050.15 1407.23Z M1090.64 1388.42 L1091.64 1387.42 L1095.55 1386.28 L1105.24 1386.28 L1106.24 1387.28 L1106.24 1394.28 L1105.24 1395.28 L1101.35 1396.42 L1091.64 1396.42 L1090.64 1395.42Z M1131.14 1376.6 L1132.14 1375.6 L1134.75 1374.84 L1144.45 1374.84 L1145.45 1375.84 L1145.45 1382.84 L1144.45 1383.84 L1141.84 1384.6 L1132.14 1384.6 L1131.14 1383.6Z M1133.75 1375.84 L1134.75 1374.84 L1136.04 1374.25 L1145.74 1374.25 L1146.74 1375.25 L1146.74 1382.25 L1145.74 1383.25 L1144.45 1383.84 L1134.75 1383.84 L1133.75 1382.84Z M1171.63 1358.32 L1172.63 1357.32 L1176.54 1355.52 L1186.23 1355.52 L1187.23 1356.52 L1187.23 1363.52 L1186.23 1364.52 L1182.34 1366.32 L1172.63 1366.32 L1171.63 1365.32Z M1212.13 1339.05 L1213.13 1338.05 L1217.03 1336.09 L1226.73 1336.09 L1227.73 1337.09 L1227.73 1344.09 L1226.73 1345.09 L1222.83 1347.05 L1213.13 1347.05 L1212.13 1346.05Z M1252.62 1318.72 L1253.62 1317.72 L1257.53 1315.76 L1267.22 1315.76 L1268.22 1316.76 L1268.22 1323.76 L1267.22 1324.76 L1263.33 1326.72 L1253.62 1326.72 L1252.62 1325.72Z M1293.12 1294.19 L1294.12 1293.19 L1298.02 1290.69 L1307.72 1290.69 L1308.72 1291.69 L1308.72 1298.69 L1307.72 1299.69 L1303.82 1302.19 L1294.12 1302.19 L1293.12 1301.19Z M1333.62 1268.03 L1334.62 1267.03 L1338.52 1264.4 L1348.21 1264.4 L1349.21 1265.4 L1349.21 1272.4 L1348.21 1273.4 L1344.32 1276.03 L1334.62 1276.03 L1333.62 1275.03Z M1374.11 1240.74 L1375.11 1239.74 L1379.01 1237.12 L1388.71 1237.12 L1389.71 1238.12 L1389.71 1245.12 L1388.71 1246.12 L1384.81 1248.74 L1375.11 1248.74 L1374.11 1247.74Z M1413.4 1211.3 L1414.4 1210.3 L1418.09 1207.3 L1427.79 1207.3 L1428.79 1208.3 L1428.79 1215.3 L1427.79 1216.3 L1424.1 1219.3 L1414.4 1219.3 L1413.4 1218.3Z M1451.73 1180.15 L1452.73 1179.15 L1456.42 1176.15 L1466.12 1176.15 L1467.12 1177.15 L1467.12 1184.15 L1466.12 1185.15 L1462.43 1188.15 L1452.73 1188.15 L1451.73 1187.15Z M1488.26 1149 L1489.26 1148 L1492.75 1145 L1502.45 1145 L1503.45 1146 L1503.45 1153 L1502.45 1154 L1498.96 1157 L1489.26 1157 L1488.26 1156Z M1523.56 1117.85 L1526.08 1114.85 L1527.08 1113.85 L1536.78 1113.85 L1537.78 1114.85 L1537.78 1121.85 L1535.26 1124.85 L1534.26 1125.85 L1524.56 1125.85 L1523.56 1124.85Z M1549.71 1086.7 L1552.23 1083.7 L1553.23 1082.7 L1562.93 1082.7 L1563.93 1083.7 L1563.93 1090.7 L1561.41 1093.7 L1560.41 1094.7 L1550.71 1094.7 L1549.71 1093.7Z M1575.86 1055.55 L1578.37 1052.55 L1579.37 1051.55 L1589.07 1051.55 L1590.07 1052.55 L1590.07 1059.55 L1587.56 1062.55 L1586.56 1063.55 L1576.86 1063.55 L1575.86 1062.55Z M1602 1024.4 L1604.52 1021.4 L1605.52 1020.4 L1615.22 1020.4 L1616.22 1021.4 L1616.22 1028.4 L1613.7 1031.4 L1612.7 1032.4 L1603 1032.4 L1602 1031.4Z M1628.15 993.25 L1630.67 990.25 L1631.67 989.25 L1641.37 989.25 L1642.37 990.25 L1642.37 997.25 L1639.85 1000.25 L1638.85 1001.25 L1629.15 1001.25 L1628.15 1000.25Z M1654.3 962.1 L1656.82 959.1 L1657.82 958.1 L1667.52 958.1 L1668.52 959.1 L1668.52 966.1 L1666 969.1 L1665 970.1 L1655.3 970.1 L1654.3 969.1Z M1680.44 930.95 L1682.96 927.95 L1683.96 926.95 L1693.66 926.95 L1694.66 927.95 L1694.66 934.95 L1692.14 937.95 L1691.14 938.95 L1681.44 938.95 L1680.44 937.95Z M1706.59 899.8 L1709.11 896.8 L1710.11 895.8 L1719.81 895.8 L1720.81 896.8 L1720.81 903.8 L1718.29 906.8 L1717.29 907.8 L1707.59 907.8 L1706.59 906.8Z M1732.74 868.65 L1735.26 865.65 L1736.26 864.65 L1745.96 864.65 L1746.96 865.65 L1746.96 872.65 L1744.44 875.65 L1743.44 876.65 L1733.74 876.65 L1732.74 875.65Z M1758.89 837.5 L1761.41 834.5 L1762.41 833.5 L1772.11 833.5 L1773.11 834.5 L1773.11 841.5 L1770.59 844.5 L1769.59 845.5 L1759.89 845.5 L1758.89 844.5Z M1785.04 806.35 L1787.55 803.35 L1788.55 802.35 L1798.25 802.35 L1799.25 803.35 L1799.25 810.35 L1796.73 813.35 L1795.73 814.35 L1786.04 814.35 L1785.04 813.35Z M1811.18 775.2 L1813.7 772.2 L1814.7 771.2 L1824.4 771.2 L1825.4 772.2 L1825.4 779.2 L1822.88 782.2 L1821.88 783.2 L1812.18 783.2 L1811.18 782.2Z M1837.33 744.05 L1839.85 741.05 L1840.85 740.05 L1850.55 740.05 L1851.55 741.05 L1851.55 748.05 L1849.03 751.05 L1848.03 752.05 L1838.33 752.05 L1837.33 751.05Z M1863.48 712.9 L1866 709.9 L1867 708.9 L1876.7 708.9 L1877.7 709.9 L1877.7 716.9 L1875.18 719.9 L1874.18 720.9 L1864.48 720.9 L1863.48 719.9Z M1889.62 681.75 L1892.14 678.75 L1893.14 677.75 L1902.84 677.75 L1903.84 678.75 L1903.84 685.75 L1901.33 688.75 L1900.33 689.75 L1890.62 689.75 L1889.62 688.75Z M1914.26 650.7 L1916.28 647.7 L1917.28 646.7 L1926.98 646.7 L1927.98 647.7 L1927.98 654.7 L1925.96 657.7 L1924.96 658.7 L1915.26 658.7 L1914.26 657.7Z M1935.31 619.55 L1937.33 616.55 L1938.33 615.55 L1948.03 615.55 L1949.03 616.55 L1949.03 623.55 L1947.01 626.55 L1946.01 627.55 L1936.31 627.55 L1935.31 626.55Z M1956.36 588.4 L1958.38 585.4 L1959.38 584.4 L1969.08 584.4 L1970.08 585.4 L1970.08 592.4 L1968.06 595.4 L1967.06 596.4 L1957.36 596.4 L1956.36 595.4Z M1978.71 557.55 L1981.44 554.55 L1982.44 553.55 L1992.14 553.55 L1993.14 554.55 L1993.14 561.55 L1990.41 564.55 L1989.41 565.55 L1979.71 565.55 L1978.71 564.55Z M2007.11 526.4 L2009.85 523.4 L2010.85 522.4 L2020.55 522.4 L2021.55 523.4 L2021.55 530.4 L2018.81 533.4 L2017.81 534.4 L2008.11 534.4 L2007.11 533.4Z M2035.52 495.25 L2037.45 493.13 L2038.45 492.13 L2048.15 492.13 L2049.15 493.13 L2049.15 500.13 L2047.22 502.25 L2046.22 503.25 L2036.52 503.25 L2035.52 502.25Z M2037.45 493.13 L2038.45 492.13 L2041.56 491.93 L2051.26 491.93 L2052.26 492.93 L2052.26 499.93 L2051.26 500.93 L2048.15 501.13 L2038.45 501.13 L2037.45 500.13Z M2077.15 490.51 L2078.15 489.51 L2082.05 489.25 L2091.75 489.25 L2092.75 490.25 L2092.75 497.25 L2091.75 498.25 L2087.85 498.51 L2078.15 498.51 L2077.15 497.51Z M2117.64 488.87 L2118.64 487.87 L2132.24 487.87 L2133.24 488.87 L2133.24 495.87 L2132.24 496.87 L2118.64 496.87 L2117.64 495.87Z M2158.14 488.87 L2159.14 487.87 L2172.74 487.87 L2173.74 488.87 L2173.74 495.87 L2172.74 496.87 L2159.14 496.87 L2158.14 495.87Z"/>
<path fill="#6d4940" d="M359.15 1536.61 L360.15 1535.61 L367.72 1535.01 L377.42 1535.01 L378.42 1536.01 L378.42 1543.01 L377.42 1544.01 L369.85 1544.61 L360.15 1544.61 L359.15 1543.61Z M432.11 1530.66 L433.11 1529.66 L489.25 1524.09 L498.95 1524.09 L499.95 1525.09 L499.95 1532.09 L498.95 1533.09 L442.81 1538.66 L433.11 1538.66 L432.11 1537.66Z M488.25 1525.09 L489.25 1524.09 L529.7 1519.28 L539.4 1519.28 L540.4 1520.28 L540.4 1527.28 L539.4 1528.28 L498.95 1533.09 L489.25 1533.09 L488.25 1532.09Z M594.09 1512.23 L595.09 1511.23 L618.35 1508.32 L628.05 1508.32 L629.05 1509.32 L629.05 1516.32 L628.05 1517.32 L604.79 1520.23 L595.09 1520.23 L594.09 1519.23Z M617.35 1509.32 L618.35 1508.32 L682.9 1498.08 L692.6 1498.08 L693.6 1499.08 L693.6 1506.08 L692.6 1507.08 L628.05 1517.32 L618.35 1517.32 L617.35 1516.32Z M681.9 1499.08 L682.9 1498.08 L691.68 1496.57 L701.38 1496.57 L702.38 1497.57 L702.38 1504.57 L701.38 1505.57 L692.6 1507.08 L682.9 1507.08 L681.9 1506.08Z M756.07 1485.03 L757.07 1484.03 L853.66 1454.25 L863.36 1454.25 L864.36 1455.25 L864.36 1462.25 L863.36 1463.25 L766.77 1493.03 L757.07 1493.03 L756.07 1492.03Z M918.05 1435.09 L919.05 1434.09 L1015.64 1404.31 L1025.34 1404.31 L1026.34 1405.31 L1026.34 1412.31 L1025.34 1413.31 L928.75 1443.09 L919.05 1443.09 L918.05 1442.09Z M1080.03 1385.15 L1081.03 1384.15 L1134.75 1367.59 L1144.45 1367.59 L1145.45 1368.59 L1145.45 1375.59 L1144.45 1376.59 L1090.73 1393.15 L1081.03 1393.15 L1080.03 1392.15Z M1133.75 1368.59 L1134.75 1367.59 L1177.62 1347.2 L1187.32 1347.2 L1188.32 1348.2 L1188.32 1355.2 L1187.32 1356.2 L1144.45 1376.59 L1134.75 1376.59 L1133.75 1375.59Z M1242.01 1313.63 L1243.01 1312.63 L1263.85 1301.07 L1273.55 1301.07 L1274.55 1302.07 L1274.55 1309.07 L1273.55 1310.07 L1252.71 1321.63 L1243.01 1321.63 L1242.01 1320.63Z M1262.85 1302.07 L1263.85 1301.07 L1328.4 1259.71 L1338.1 1259.71 L1339.1 1260.71 L1339.1 1267.71 L1338.1 1268.71 L1273.55 1310.07 L1263.85 1310.07 L1262.85 1309.07Z M1327.4 1260.71 L1328.4 1259.71 L1339.6 1251.71 L1349.3 1251.71 L1350.3 1252.71 L1350.3 1259.71 L1349.3 1260.71 L1338.1 1268.71 L1328.4 1268.71 L1327.4 1267.71Z M1403.35 1205.39 L1404.35 1204.39 L1457.5 1161.2 L1467.2 1161.2 L1468.2 1162.2 L1468.2 1169.2 L1467.2 1170.2 L1414.05 1213.39 L1404.35 1213.39 L1403.35 1212.39Z M1456.5 1162.2 L1457.5 1161.2 L1491.38 1130.09 L1501.08 1130.09 L1502.08 1131.09 L1502.08 1138.09 L1501.08 1139.09 L1467.2 1170.2 L1457.5 1170.2 L1456.5 1169.2Z M1538.6 1080.3 L1596.23 1006 L1597.23 1005 L1606.93 1005 L1607.93 1006 L1607.93 1013 L1550.3 1087.3 L1549.3 1088.3 L1539.6 1088.3 L1538.6 1087.3Z M1635.24 955.7 L1692.87 881.4 L1693.87 880.4 L1703.57 880.4 L1704.57 881.4 L1704.57 888.4 L1646.94 962.7 L1645.94 963.7 L1636.24 963.7 L1635.24 962.7Z M1731.88 831.1 L1789.51 756.8 L1790.51 755.8 L1800.21 755.8 L1801.21 756.8 L1801.21 763.8 L1743.58 838.1 L1742.58 839.1 L1732.88 839.1 L1731.88 838.1Z M1828.52 706.5 L1886.15 632.2 L1887.15 631.2 L1896.85 631.2 L1897.85 632.2 L1897.85 639.2 L1840.22 713.5 L1839.22 714.5 L1829.52 714.5 L1828.52 713.5Z M1920.11 581.9 L1960.42 507.6 L1961.42 506.6 L1971.12 506.6 L1972.12 507.6 L1972.12 514.6 L1931.81 588.9 L1930.81 589.9 L1921.11 589.9 L1920.11 588.9Z M1986.18 457.4 L2022.46 383.1 L2023.46 382.1 L2033.16 382.1 L2034.16 383.1 L2034.16 390.1 L1997.88 464.4 L1996.88 465.4 L1987.18 465.4 L1986.18 464.4Z M2048.4 332.8 L2089.91 258.5 L2090.91 257.5 L2100.61 257.5 L2101.61 258.5 L2101.61 265.5 L2060.1 339.8 L2059.1 340.8 L2049.4 340.8 L2048.4 339.8Z M2139.24 227.01 L2140.24 226.01 L2167.55 218.79 L2177.25 218.79 L2178.25 219.79 L2178.25 226.79 L2177.25 227.79 L2149.94 235.01 L2140.24 235.01 L2139.24 234.01Z"/>
<path fill="#005f00" d="M371.44 1537.18 L372.44 1536.18 L377.38 1535.72 L387.07 1535.72 L388.07 1536.72 L388.07 1543.72 L387.07 1544.72 L382.13 1545.18 L372.44 1545.18 L371.44 1544.18Z M401.92 1534.36 L402.92 1533.36 L424.7 1531.34 L434.4 1531.34 L435.4 1532.34 L435.4 1539.34 L434.4 1540.34 L412.62 1542.36 L402.92 1542.36 L401.92 1541.36Z M423.7 1532.34 L424.7 1531.34 L427.88 1531.09 L437.58 1531.09 L438.58 1532.09 L438.58 1539.09 L437.58 1540.09 L434.4 1540.34 L424.7 1540.34 L423.7 1539.34Z M452.43 1530.07 L453.43 1529.07 L458.37 1528.67 L468.06 1528.67 L469.06 1529.67 L469.06 1536.67 L468.06 1537.67 L463.12 1538.07 L453.43 1538.07 L452.43 1537.07Z M482.91 1527.65 L483.91 1526.65 L489.25 1526.22 L498.95 1526.22 L499.95 1527.22 L499.95 1534.22 L498.95 1535.22 L493.61 1535.65 L483.91 1535.65 L482.91 1534.65Z M488.25 1527.22 L489.25 1526.22 L508.87 1524.02 L518.57 1524.02 L519.57 1525.02 L519.57 1532.02 L518.57 1533.02 L498.95 1535.22 L489.25 1535.22 L488.25 1534.22Z M533.41 1522.15 L534.41 1521.15 L539.36 1520.6 L549.05 1520.6 L550.05 1521.6 L550.05 1528.6 L549.05 1529.6 L544.12 1530.15 L534.41 1530.15 L533.41 1529.15Z M563.9 1518.88 L564.9 1517.88 L589.86 1515.4 L599.56 1515.4 L600.56 1516.4 L600.56 1523.4 L599.56 1524.4 L574.6 1526.88 L564.9 1526.88 L563.9 1525.88Z M614.4 1513.87 L615.4 1512.87 L618.35 1512.58 L628.05 1512.58 L629.05 1513.58 L629.05 1520.58 L628.05 1521.58 L625.11 1521.87 L615.4 1521.87 L614.4 1520.87Z M617.35 1513.58 L618.35 1512.58 L620.35 1512.26 L630.04 1512.26 L631.04 1513.26 L631.04 1520.26 L630.04 1521.26 L628.05 1521.58 L618.35 1521.58 L617.35 1520.58Z M644.89 1509.21 L645.89 1508.21 L670.85 1504.26 L680.55 1504.26 L681.55 1505.26 L681.55 1512.26 L680.55 1513.26 L655.59 1517.21 L645.89 1517.21 L644.89 1516.21Z M695.39 1501.38 L696.39 1500.38 L701.34 1499.66 L711.03 1499.66 L712.03 1500.66 L712.03 1507.66 L711.03 1508.66 L706.1 1509.38 L696.39 1509.38 L695.39 1508.38Z M725.88 1496.95 L726.88 1495.95 L747.45 1492.96 L757.15 1492.96 L758.15 1493.96 L758.15 1500.96 L757.15 1501.96 L736.58 1504.95 L726.88 1504.95 L725.88 1503.95Z M746.45 1493.96 L747.45 1492.96 L751.84 1491.74 L761.54 1491.74 L762.54 1492.74 L762.54 1499.74 L761.54 1500.74 L757.15 1501.96 L747.45 1501.96 L746.45 1500.96Z M776.38 1485.66 L777.38 1484.66 L782.33 1483.29 L792.02 1483.29 L793.02 1484.29 L793.02 1491.29 L792.02 1492.29 L787.09 1493.66 L777.38 1493.66 L776.38 1492.66Z M806.87 1477.2 L807.87 1476.2 L832.83 1469.27 L842.53 1469.27 L843.53 1470.27 L843.53 1477.27 L842.53 1478.27 L817.57 1485.2 L807.87 1485.2 L806.87 1484.2Z M857.38 1463.19 L858.38 1462.19 L863.32 1460.82 L873.01 1460.82 L874.01 1461.82 L874.01 1468.82 L873.01 1469.82 L868.08 1471.19 L858.38 1471.19 L857.38 1470.19Z M887.86 1454.73 L888.86 1453.73 L913.82 1446.8 L923.52 1446.8 L924.52 1447.8 L924.52 1454.8 L923.52 1455.8 L898.56 1462.73 L888.86 1462.73 L887.86 1461.73Z M938.37 1440.71 L939.37 1439.71 L944.3 1438.34 L954 1438.34 L955 1439.34 L955 1446.34 L954 1447.34 L949.07 1448.71 L939.37 1448.71 L938.37 1447.71Z M968.85 1432.26 L969.85 1431.26 L994.81 1424.33 L1004.51 1424.33 L1005.51 1425.33 L1005.51 1432.33 L1004.51 1433.33 L979.55 1440.26 L969.85 1440.26 L968.85 1439.26Z M1019.36 1418.24 L1020.36 1417.24 L1025.3 1415.87 L1034.99 1415.87 L1035.99 1416.87 L1035.99 1423.87 L1034.99 1424.87 L1030.06 1426.24 L1020.36 1426.24 L1019.36 1425.24Z M1049.84 1409.79 L1050.84 1408.79 L1075.8 1401.86 L1085.5 1401.86 L1086.5 1402.86 L1086.5 1409.86 L1085.5 1410.86 L1060.54 1417.79 L1050.84 1417.79 L1049.84 1416.79Z M1100.35 1395.77 L1101.35 1394.77 L1106.29 1393.4 L1115.98 1393.4 L1116.98 1394.4 L1116.98 1401.4 L1115.98 1402.4 L1111.05 1403.77 L1101.35 1403.77 L1100.35 1402.77Z M1130.83 1387.31 L1131.83 1386.31 L1134.75 1385.5 L1144.45 1385.5 L1145.45 1386.5 L1145.45 1393.5 L1144.45 1394.5 L1141.53 1395.31 L1131.83 1395.31 L1130.83 1394.31Z M1133.75 1386.5 L1134.75 1385.5 L1156.79 1376.04 L1166.49 1376.04 L1167.49 1377.04 L1167.49 1384.04 L1166.49 1385.04 L1144.45 1394.5 L1134.75 1394.5 L1133.75 1393.5Z M1181.34 1366.07 L1182.34 1365.07 L1187.28 1362.95 L1196.97 1362.95 L1197.97 1363.95 L1197.97 1370.95 L1196.97 1371.95 L1192.04 1374.07 L1182.34 1374.07 L1181.34 1373.07Z M1211.82 1352 L1212.82 1351 L1237.78 1338.46 L1247.48 1338.46 L1248.48 1339.46 L1248.48 1346.46 L1247.48 1347.46 L1222.52 1360 L1212.82 1360 L1211.82 1359Z M1262.33 1326.64 L1263.33 1325.64 L1263.85 1325.38 L1273.55 1325.38 L1274.55 1326.38 L1274.55 1333.38 L1273.55 1334.38 L1273.03 1334.64 L1263.33 1334.64 L1262.33 1333.64Z M1262.85 1326.38 L1263.85 1325.38 L1268.27 1322.81 L1277.96 1322.81 L1278.96 1323.81 L1278.96 1330.81 L1277.96 1331.81 L1273.55 1334.38 L1263.85 1334.38 L1262.85 1333.38Z M1292.81 1308.96 L1293.81 1307.96 L1318.77 1293.45 L1328.47 1293.45 L1329.47 1294.45 L1329.47 1301.45 L1328.47 1302.45 L1303.51 1316.96 L1293.81 1316.96 L1292.81 1315.96Z M1343.32 1278.44 L1344.32 1277.44 L1349.26 1274.21 L1358.95 1274.21 L1359.95 1275.21 L1359.95 1282.21 L1358.95 1283.21 L1354.02 1286.44 L1344.32 1286.44 L1343.32 1285.44Z M1373.8 1258.5 L1374.8 1257.5 L1392.95 1245.63 L1402.65 1245.63 L1403.65 1246.63 L1403.65 1253.63 L1402.65 1254.63 L1384.5 1266.5 L1374.8 1266.5 L1373.8 1265.5Z M1391.95 1246.63 L1392.95 1245.63 L1399.76 1240.68 L1409.46 1240.68 L1410.46 1241.68 L1410.46 1248.68 L1409.46 1249.68 L1402.65 1254.63 L1392.95 1254.63 L1391.95 1253.63Z M1424.31 1223.12 L1425.31 1222.12 L1430.24 1218.53 L1439.94 1218.53 L1440.94 1219.53 L1440.94 1226.53 L1439.94 1227.53 L1435.01 1231.12 L1425.31 1231.12 L1424.31 1230.12Z M1454.79 1200.97 L1455.79 1199.97 L1457.5 1198.73 L1467.2 1198.73 L1468.2 1199.73 L1468.2 1206.73 L1467.2 1207.73 L1465.49 1208.97 L1455.79 1208.97 L1454.79 1207.97Z M1456.5 1199.73 L1457.5 1198.73 L1478.49 1180.84 L1488.19 1180.84 L1489.19 1181.84 L1489.19 1188.84 L1488.19 1189.84 L1467.2 1207.73 L1457.5 1207.73 L1456.5 1206.73Z M1500.54 1162.19 L1501.54 1161.19 L1506 1157.39 L1515.7 1157.39 L1516.7 1158.39 L1516.7 1165.39 L1515.7 1166.39 L1511.24 1170.19 L1501.54 1170.19 L1500.54 1169.19Z M1526.58 1137.8 L1541.91 1118.6 L1542.91 1117.6 L1552.61 1117.6 L1553.61 1118.6 L1553.61 1125.6 L1538.28 1144.8 L1537.28 1145.8 L1527.58 1145.8 L1526.58 1144.8Z M1557.61 1098.95 L1560.64 1095.15 L1561.64 1094.15 L1571.34 1094.15 L1572.34 1095.15 L1572.34 1102.15 L1569.31 1105.95 L1568.31 1106.95 L1558.61 1106.95 L1557.61 1105.95Z M1576.34 1075.5 L1591.68 1056.3 L1592.68 1055.3 L1602.38 1055.3 L1603.38 1056.3 L1603.38 1063.3 L1588.04 1082.5 L1587.04 1083.5 L1577.34 1083.5 L1576.34 1082.5Z M1607.37 1036.65 L1610.41 1032.85 L1611.41 1031.85 L1621.11 1031.85 L1622.11 1032.85 L1622.11 1039.85 L1619.07 1043.65 L1618.07 1044.65 L1608.37 1044.65 L1607.37 1043.65Z M1626.11 1013.2 L1641.44 994 L1642.44 993 L1652.14 993 L1653.14 994 L1653.14 1001 L1637.81 1020.2 L1636.81 1021.2 L1627.11 1021.2 L1626.11 1020.2Z M1657.14 974.35 L1660.17 970.55 L1661.17 969.55 L1670.88 969.55 L1671.88 970.55 L1671.88 977.55 L1668.84 981.35 L1667.84 982.35 L1658.14 982.35 L1657.14 981.35Z M1675.87 950.9 L1691.21 931.7 L1692.21 930.7 L1701.91 930.7 L1702.91 931.7 L1702.91 938.7 L1687.57 957.9 L1686.57 958.9 L1676.87 958.9 L1675.87 957.9Z M1706.9 912.05 L1709.94 908.25 L1710.94 907.25 L1720.64 907.25 L1721.64 908.25 L1721.64 915.25 L1718.61 919.05 L1717.61 920.05 L1707.9 920.05 L1706.9 919.05Z M1725.64 888.6 L1740.97 869.4 L1741.97 868.4 L1751.67 868.4 L1752.67 869.4 L1752.67 876.4 L1737.34 895.6 L1736.34 896.6 L1726.64 896.6 L1725.64 895.6Z M1756.67 849.75 L1759.71 845.95 L1760.71 844.95 L1770.41 844.95 L1771.41 845.95 L1771.41 852.95 L1768.37 856.75 L1767.37 857.75 L1757.67 857.75 L1756.67 856.75Z M1775.4 826.3 L1790.74 807.1 L1791.74 806.1 L1801.44 806.1 L1802.44 807.1 L1802.44 814.1 L1787.1 833.3 L1786.1 834.3 L1776.4 834.3 L1775.4 833.3Z M1806.44 787.45 L1809.47 783.65 L1810.47 782.65 L1820.17 782.65 L1821.17 783.65 L1821.17 790.65 L1818.14 794.45 L1817.14 795.45 L1807.44 795.45 L1806.44 794.45Z M1825.17 764 L1840.51 744.8 L1841.51 743.8 L1851.2 743.8 L1852.2 744.8 L1852.2 751.8 L1836.87 771 L1835.87 772 L1826.17 772 L1825.17 771Z M1856.2 725.15 L1859.24 721.35 L1860.24 720.35 L1869.94 720.35 L1870.94 721.35 L1870.94 728.35 L1867.9 732.15 L1866.9 733.15 L1857.2 733.15 L1856.2 732.15Z M1874.93 701.7 L1890.27 682.5 L1891.27 681.5 L1900.97 681.5 L1901.97 682.5 L1901.97 689.5 L1886.63 708.7 L1885.63 709.7 L1875.93 709.7 L1874.93 708.7Z M1905.97 662.85 L1908.35 659.87 L1909.35 658.87 L1919.05 658.87 L1920.05 659.87 L1920.05 666.87 L1917.67 669.85 L1916.67 670.85 L1906.97 670.85 L1905.97 669.85Z M1908.35 659.87 L1908.83 659.05 L1909.83 658.05 L1919.53 658.05 L1920.53 659.05 L1920.53 666.05 L1920.05 666.87 L1919.05 667.87 L1909.35 667.87 L1908.35 666.87Z M1920.31 639.4 L1931.53 620.2 L1932.53 619.2 L1942.23 619.2 L1943.23 620.2 L1943.23 627.2 L1932.01 646.4 L1931.01 647.4 L1921.31 647.4 L1920.31 646.4Z M1943.02 600.55 L1945.24 596.75 L1946.24 595.75 L1955.94 595.75 L1956.94 596.75 L1956.94 603.75 L1954.72 607.55 L1953.72 608.55 L1944.02 608.55 L1943.02 607.55Z M1956.72 577.1 L1967.94 557.9 L1968.94 556.9 L1978.64 556.9 L1979.64 557.9 L1979.64 564.9 L1968.42 584.1 L1967.42 585.1 L1957.72 585.1 L1956.72 584.1Z M1978.07 539.75 L1980.11 535.95 L1981.11 534.95 L1990.81 534.95 L1991.81 535.95 L1991.81 542.95 L1989.77 546.75 L1988.77 547.75 L1979.07 547.75 L1978.07 546.75Z M1990.62 516.3 L2000.89 497.1 L2001.89 496.1 L2011.59 496.1 L2012.59 497.1 L2012.59 504.1 L2002.32 523.3 L2001.32 524.3 L1991.62 524.3 L1990.62 523.3Z M2011.4 477.45 L2013.43 473.65 L2014.43 472.65 L2024.13 472.65 L2025.13 473.65 L2025.13 480.65 L2023.1 484.45 L2022.1 485.45 L2012.4 485.45 L2011.4 484.45Z M2023.94 454 L2034.21 434.8 L2035.21 433.8 L2044.91 433.8 L2045.91 434.8 L2045.91 441.8 L2035.64 461 L2034.64 462 L2024.94 462 L2023.94 461Z M2043.63 415.35 L2045.38 411.55 L2046.38 410.55 L2056.08 410.55 L2057.08 411.55 L2057.08 418.55 L2055.33 422.35 L2054.33 423.35 L2044.63 423.35 L2043.63 422.35Z M2054.45 391.9 L2063.31 372.7 L2064.31 371.7 L2074.01 371.7 L2075.01 372.7 L2075.01 379.7 L2066.15 398.9 L2065.15 399.9 L2055.45 399.9 L2054.45 398.9Z M2072.38 353.05 L2074.14 349.25 L2075.14 348.25 L2084.84 348.25 L2085.84 349.25 L2085.84 356.25 L2084.08 360.05 L2083.08 361.05 L2073.38 361.05 L2072.38 360.05Z M2083.2 329.6 L2092.07 310.4 L2093.07 309.4 L2102.76 309.4 L2103.76 310.4 L2103.76 317.4 L2094.9 336.6 L2093.9 337.6 L2084.2 337.6 L2083.2 336.6Z M2101.13 290.75 L2102 288.87 L2103 287.87 L2112.7 287.87 L2113.7 288.87 L2113.7 295.87 L2112.83 297.75 L2111.83 298.75 L2102.13 298.75 L2101.13 297.75Z M2102 288.87 L2102.95 286.55 L2103.95 285.55 L2113.65 285.55 L2114.65 286.55 L2114.65 293.55 L2113.7 295.87 L2112.7 296.87 L2103 296.87 L2102 295.87Z M2110.97 266.9 L2118.8 247.7 L2119.8 246.7 L2129.5 246.7 L2130.5 247.7 L2130.5 254.7 L2122.66 273.9 L2121.66 274.9 L2111.97 274.9 L2110.97 273.9Z M2126.82 228.05 L2128.37 224.25 L2129.37 223.25 L2139.07 223.25 L2140.07 224.25 L2140.07 231.25 L2138.52 235.05 L2137.52 236.05 L2127.82 236.05 L2126.82 235.05Z M2136.38 204.6 L2144.22 185.4 L2145.22 184.4 L2154.92 184.4 L2155.92 185.4 L2155.92 192.4 L2148.08 211.6 L2147.08 212.6 L2137.38 212.6 L2136.38 211.6Z M2152.24 165.75 L2153.79 161.95 L2154.79 160.95 L2164.49 160.95 L2165.49 161.95 L2165.49 168.95 L2163.93 172.75 L2162.93 173.75 L2153.24 173.75 L2152.24 172.75Z M2161.8 142.3 L2166.55 130.67 L2167.55 129.67 L2177.25 129.67 L2178.25 130.67 L2178.25 137.67 L2173.5 149.3 L2172.5 150.3 L2162.8 150.3 L2161.8 149.3Z"/>
<ellipse cx="365" cy="1543.52" rx="21.2" ry="16.8" fill="#ff0000"/>
<ellipse cx="429.55" cy="1538.4" rx="21.2" ry="16.8" fill="#ff0000"/>
<ellipse cx="494.1" cy="1532" rx="21.2" ry="16.8" fill="#ff0000"/>
<ellipse cx="558.65" cy="1524.33" rx="21.2" ry="16.8" fill="#ff0000"/>
<ellipse cx="623.2" cy="1518.78" rx="21.2" ry="16.8" fill="#ff0000"/>
<ellipse cx="687.75" cy="1512.81" rx="21.2" ry="16.8" fill="#ff0000"/>
<ellipse cx="752.3" cy="1506.84" rx="21.2" ry="16.8" fill="#ff0000"/>
<ellipse cx="1139.6" cy="1459.08" rx="21.2" ry="16.8" fill="#ff0000"/>
<ellipse cx="1204.15" cy="1450.56" rx="21.2" ry="16.8" fill="#ff0000"/>
<ellipse cx="1268.7" cy="1442.03" rx="21.2" ry="16.8" fill="#ff0000"/>
<ellipse cx="1333.25" cy="1434.35" rx="21.2" ry="16.8" fill="#ff0000"/>
<ellipse cx="1397.8" cy="1427.53" rx="21.2" ry="16.8" fill="#ff0000"/>
<ellipse cx="1462.35" cy="1420.28" rx="21.2" ry="16.8" fill="#ff0000"/>
<ellipse cx="1526.9" cy="1416.44" rx="21.2" ry="16.8" fill="#ff0000"/>
<ellipse cx="1914.2" cy="1408.77" rx="21.2" ry="16.8" fill="#ff0000"/>
<ellipse cx="1978.75" cy="1408.77" rx="21.2" ry="16.8" fill="#ff0000"/>
<ellipse cx="2043.3" cy="1408.77" rx="21.2" ry="16.8" fill="#ff0000"/>
<ellipse cx="2107.85" cy="1408.77" rx="21.2" ry="16.8" fill="#ff0000"/>
<ellipse cx="2172.4" cy="1408.77" rx="21.2" ry="16.8" fill="#ff0000"/>
<rect x="344.8" y="1523.43" width="40.4" height="30.8" fill="#fff" stroke="#0000d7" stroke-width="2"/>
<rect x="409.35" y="1517.03" width="40.4" height="30.8" fill="#fff" stroke="#0000d7" stroke-width="2"/>
<rect x="473.9" y="1510.63" width="40.4" height="30.8" fill="#fff" stroke="#0000d7" stroke-width="2"/>
<rect x="538.45" y="1503.81" width="40.4" height="30.8" fill="#fff" stroke="#0000d7" stroke-width="2"/>
<rect x="603" y="1495.28" width="40.4" height="30.8" fill="#fff" stroke="#0000d7" stroke-width="2"/>
<rect x="667.55" y="1486.75" width="40.4" height="30.8" fill="#fff" stroke="#0000d7" stroke-width="2"/>
<rect x="732.1" y="1476.09" width="40.4" height="30.8" fill="#fff" stroke="#0000d7" stroke-width="2"/>
<rect x="1119.4" y="1392.51" width="40.4" height="30.8" fill="#fff" stroke="#0000d7" stroke-width="2"/>
<rect x="1183.95" y="1375.46" width="40.4" height="30.8" fill="#fff" stroke="#0000d7" stroke-width="2"/>
<rect x="1248.5" y="1354.99" width="40.4" height="30.8" fill="#fff" stroke="#0000d7" stroke-width="2"/>
<rect x="1313.05" y="1335.8" width="40.4" height="30.8" fill="#fff" stroke="#0000d7" stroke-width="2"/>
<rect x="1377.6" y="1317.03" width="40.4" height="30.8" fill="#fff" stroke="#0000d7" stroke-width="2"/>
<rect x="1442.15" y="1296.99" width="40.4" height="30.8" fill="#fff" stroke="#0000d7" stroke-width="2"/>
<rect x="1506.7" y="1281.64" width="40.4" height="30.8" fill="#fff" stroke="#0000d7" stroke-width="2"/>
<rect x="1894" y="1261.17" width="40.4" height="30.8" fill="#fff" stroke="#0000d7" stroke-width="2"/>
<rect x="1958.55" y="1261.17" width="40.4" height="30.8" fill="#fff" stroke="#0000d7" stroke-width="2"/>
<rect x="2023.1" y="1261.17" width="40.4" height="30.8" fill="#fff" stroke="#0000d7" stroke-width="2"/>
<rect x="2087.65" y="1261.17" width="40.4" height="30.8" fill="#fff" stroke="#0000d7" stroke-width="2"/>
<rect x="2152.2" y="1261.17" width="40.4" height="30.8" fill="#fff" stroke="#0000d7" stroke-width="2"/>
<rect x="342.75" y="1526.09" width="44.5" height="34" fill="#ff0588"/>
<rect x="407.3" y="1520.97" width="44.5" height="34" fill="#ff0588"/>
<rect x="471.85" y="1513.72" width="44.5" height="34" fill="#ff0588"/>
<rect x="536.4" y="1505.62" width="44.5" height="34" fill="#ff0588"/>
<rect x="600.95" y="1497.09" width="44.5" height="34" fill="#ff0588"/>
<rect x="665.5" y="1487.71" width="44.5" height="34" fill="#ff0588"/>
<rect x="730.05" y="1474.92" width="44.5" height="34" fill="#ff0588"/>
<rect x="1117.35" y="1364.47" width="44.5" height="34" fill="#ff0588"/>
<rect x="1181.9" y="1338.04" width="44.5" height="34" fill="#ff0588"/>
<rect x="1246.45" y="1307.33" width="44.5" height="34" fill="#ff0588"/>
<rect x="1311" y="1275.35" width="44.5" height="34" fill="#ff0588"/>
<rect x="1375.55" y="1240.38" width="44.5" height="34" fill="#ff0588"/>
<rect x="1440.1" y="1202.43" width="44.5" height="34" fill="#ff0588"/>
<rect x="1504.65" y="1161.92" width="44.5" height="34" fill="#ff0588"/>
<rect x="1891.95" y="1000.73" width="44.5" height="34" fill="#ff0588"/>
<rect x="1956.5" y="1000.73" width="44.5" height="34" fill="#ff0588"/>
<rect x="2021.05" y="1000.73" width="44.5" height="34" fill="#ff0588"/>
<rect x="2085.6" y="1000.73" width="44.5" height="34" fill="#ff0588"/>
<rect x="2150.15" y="1000.73" width="44.5" height="34" fill="#ff0588"/>
<polygon points="365,1524.71 385.1,1540.11 365,1555.51 344.9,1540.11" fill="#fff" stroke="#008000" stroke-width="2.4"/>
<polygon points="429.55,1518.31 449.65,1533.71 429.55,1549.11 409.45,1533.71" fill="#fff" stroke="#008000" stroke-width="2.4"/>
<polygon points="494.1,1511.49 514.2,1526.89 494.1,1542.29 474,1526.89" fill="#fff" stroke="#008000" stroke-width="2.4"/>
<polygon points="558.65,1503.38 578.75,1518.78 558.65,1534.18 538.55,1518.78" fill="#fff" stroke="#008000" stroke-width="2.4"/>
<polygon points="623.2,1493.15 643.3,1508.55 623.2,1523.95 603.1,1508.55" fill="#fff" stroke="#008000" stroke-width="2.4"/>
<polygon points="687.75,1481.64 707.85,1497.04 687.75,1512.44 667.65,1497.04" fill="#fff" stroke="#008000" stroke-width="2.4"/>
<polygon points="752.3,1470.12 772.4,1485.52 752.3,1500.92 732.2,1485.52" fill="#fff" stroke="#008000" stroke-width="2.4"/>
<polygon points="1139.6,1338.78 1159.7,1354.18 1139.6,1369.58 1119.5,1354.18" fill="#fff" stroke="#008000" stroke-width="2.4"/>
<polygon points="1204.15,1306.8 1224.25,1322.2 1204.15,1337.6 1184.05,1322.2" fill="#fff" stroke="#008000" stroke-width="2.4"/>
<polygon points="1268.7,1269.27 1288.8,1284.67 1268.7,1300.07 1248.6,1284.67" fill="#fff" stroke="#008000" stroke-width="2.4"/>
<polygon points="1333.25,1228.76 1353.35,1244.16 1333.25,1259.56 1313.15,1244.16" fill="#fff" stroke="#008000" stroke-width="2.4"/>
<polygon points="1397.8,1183.99 1417.9,1199.39 1397.8,1214.79 1377.7,1199.39" fill="#fff" stroke="#008000" stroke-width="2.4"/>
<polygon points="1462.35,1134.52 1482.45,1149.92 1462.35,1165.32 1442.25,1149.92" fill="#fff" stroke="#008000" stroke-width="2.4"/>
<polygon points="1526.9,1080.37 1547,1095.77 1526.9,1111.17 1506.8,1095.77" fill="#fff" stroke="#008000" stroke-width="2.4"/>
<polygon points="1914.2,737.09 1934.3,752.49 1914.2,767.89 1894.1,752.49" fill="#fff" stroke="#008000" stroke-width="2.4"/>
<polygon points="1978.75,737.09 1998.85,752.49 1978.75,767.89 1958.65,752.49" fill="#fff" stroke="#008000" stroke-width="2.4"/>
<polygon points="2043.3,737.09 2063.4,752.49 2043.3,767.89 2023.2,752.49" fill="#fff" stroke="#008000" stroke-width="2.4"/>
<polygon points="2107.85,737.09 2127.95,752.49 2107.85,767.89 2087.75,752.49" fill="#fff" stroke="#008000" stroke-width="2.4"/>
<polygon points="2172.4,737.09 2192.5,752.49 2172.4,767.89 2152.3,752.49" fill="#fff" stroke="#008000" stroke-width="2.4"/>
<polygon points="365,1526.16 386.65,1542.66 365,1559.16 343.35,1542.66" fill="#e05e00"/>
<polygon points="429.55,1520.62 451.2,1537.12 429.55,1553.62 407.9,1537.12" fill="#e05e00"/>
<polygon points="494.1,1515.08 515.75,1531.58 494.1,1548.08 472.45,1531.58" fill="#e05e00"/>
<polygon points="558.65,1507.83 580.3,1524.33 558.65,1540.83 537,1524.33" fill="#e05e00"/>
<polygon points="623.2,1499.73 644.85,1516.23 623.2,1532.73 601.55,1516.23" fill="#e05e00"/>
<polygon points="687.75,1489.92 709.4,1506.42 687.75,1522.92 666.1,1506.42" fill="#e05e00"/>
<polygon points="752.3,1475.85 773.95,1492.35 752.3,1508.85 730.65,1492.35" fill="#e05e00"/>
<polygon points="1139.6,1362.84 1161.25,1379.34 1139.6,1395.84 1117.95,1379.34" fill="#e05e00"/>
<polygon points="1204.15,1332.99 1225.8,1349.49 1204.15,1365.99 1182.5,1349.49" fill="#e05e00"/>
<polygon points="1268.7,1300.58 1290.35,1317.08 1268.7,1333.58 1247.05,1317.08" fill="#e05e00"/>
<polygon points="1333.25,1259.22 1354.9,1275.72 1333.25,1292.22 1311.6,1275.72" fill="#e05e00"/>
<polygon points="1397.8,1215.72 1419.45,1232.22 1397.8,1248.72 1376.15,1232.22" fill="#e05e00"/>
<polygon points="1462.35,1163.27 1484,1179.77 1462.35,1196.27 1440.7,1179.77" fill="#e05e00"/>
<polygon points="1526.9,1107.84 1548.55,1124.34 1526.9,1140.84 1505.25,1124.34" fill="#e05e00"/>
<polygon points="1914.2,646.44 1935.85,662.94 1914.2,679.44 1892.55,662.94" fill="#e05e00"/>
<polygon points="1978.75,550.92 2000.4,567.42 1978.75,583.92 1957.1,567.42" fill="#e05e00"/>
<polygon points="2043.3,480.13 2064.95,496.63 2043.3,513.13 2021.65,496.63" fill="#e05e00"/>
<polygon points="2107.85,475.87 2129.5,492.37 2107.85,508.87 2086.2,492.37" fill="#e05e00"/>
<polygon points="2172.4,475.87 2194.05,492.37 2172.4,508.87 2150.75,492.37" fill="#e05e00"/>
<polygon points="365,1529.16 384.4,1551.16 345.6,1551.16" fill="#fff" stroke="#6d4940" stroke-width="2.4" stroke-linejoin="miter"/>
<polygon points="429.55,1524.04 448.95,1546.04 410.15,1546.04" fill="#fff" stroke="#6d4940" stroke-width="2.4" stroke-linejoin="miter"/>
<polygon points="494.1,1517.64 513.5,1539.64 474.7,1539.64" fill="#fff" stroke="#6d4940" stroke-width="2.4" stroke-linejoin="miter"/>
<polygon points="558.65,1509.97 578.05,1531.97 539.25,1531.97" fill="#fff" stroke="#6d4940" stroke-width="2.4" stroke-linejoin="miter"/>
<polygon points="623.2,1501.86 642.6,1523.86 603.8,1523.86" fill="#fff" stroke="#6d4940" stroke-width="2.4" stroke-linejoin="miter"/>
<polygon points="687.75,1491.63 707.15,1513.63 668.35,1513.63" fill="#fff" stroke="#6d4940" stroke-width="2.4" stroke-linejoin="miter"/>
<polygon points="752.3,1480.54 771.7,1502.54 732.9,1502.54" fill="#fff" stroke="#6d4940" stroke-width="2.4" stroke-linejoin="miter"/>
<polygon points="1139.6,1361.14 1159,1383.14 1120.2,1383.14" fill="#fff" stroke="#6d4940" stroke-width="2.4" stroke-linejoin="miter"/>
<polygon points="1204.15,1330.44 1223.55,1352.44 1184.75,1352.44" fill="#fff" stroke="#6d4940" stroke-width="2.4" stroke-linejoin="miter"/>
<polygon points="1268.7,1294.62 1288.1,1316.62 1249.3,1316.62" fill="#fff" stroke="#6d4940" stroke-width="2.4" stroke-linejoin="miter"/>
<polygon points="1333.25,1253.26 1352.65,1275.26 1313.85,1275.26" fill="#fff" stroke="#6d4940" stroke-width="2.4" stroke-linejoin="miter"/>
<polygon points="1397.8,1207.2 1417.2,1229.2 1378.4,1229.2" fill="#fff" stroke="#6d4940" stroke-width="2.4" stroke-linejoin="miter"/>
<polygon points="1462.35,1154.75 1481.75,1176.75 1442.95,1176.75" fill="#fff" stroke="#6d4940" stroke-width="2.4" stroke-linejoin="miter"/>
<polygon points="1526.9,1095.48 1546.3,1117.48 1507.5,1117.48" fill="#fff" stroke="#6d4940" stroke-width="2.4" stroke-linejoin="miter"/>
<polygon points="1914.2,596.13 1933.6,618.13 1894.8,618.13" fill="#fff" stroke="#6d4940" stroke-width="2.4" stroke-linejoin="miter"/>
<polygon points="1978.75,477.15 1998.15,499.15 1959.35,499.15" fill="#fff" stroke="#6d4940" stroke-width="2.4" stroke-linejoin="miter"/>
<polygon points="2043.3,344.96 2062.7,366.96 2023.9,366.96" fill="#fff" stroke="#6d4940" stroke-width="2.4" stroke-linejoin="miter"/>
<polygon points="2107.85,229.4 2127.25,251.4 2088.45,251.4" fill="#fff" stroke="#6d4940" stroke-width="2.4" stroke-linejoin="miter"/>
<polygon points="2172.4,212.34 2191.8,234.34 2153,234.34" fill="#fff" stroke="#6d4940" stroke-width="2.4" stroke-linejoin="miter"/>
<polygon points="365,1529.56 386,1554.06 344,1554.06" fill="#005f00"/>
<polygon points="429.55,1523.59 450.55,1548.09 408.55,1548.09" fill="#005f00"/>
<polygon points="494.1,1518.47 515.1,1542.97 473.1,1542.97" fill="#005f00"/>
<polygon points="558.65,1511.23 579.65,1535.73 537.65,1535.73" fill="#005f00"/>
<polygon points="623.2,1504.83 644.2,1529.33 602.2,1529.33" fill="#005f00"/>
<polygon points="687.75,1494.59 708.75,1519.09 666.75,1519.09" fill="#005f00"/>
<polygon points="752.3,1485.21 773.3,1509.71 731.3,1509.71" fill="#005f00"/>
<polygon points="1139.6,1377.75 1160.6,1402.25 1118.6,1402.25" fill="#005f00"/>
<polygon points="1204.15,1350.03 1225.15,1374.53 1183.15,1374.53" fill="#005f00"/>
<polygon points="1268.7,1317.63 1289.7,1342.13 1247.7,1342.13" fill="#005f00"/>
<polygon points="1333.25,1280.1 1354.25,1304.6 1312.25,1304.6" fill="#005f00"/>
<polygon points="1397.8,1237.88 1418.8,1262.38 1376.8,1262.38" fill="#005f00"/>
<polygon points="1462.35,1190.98 1483.35,1215.48 1441.35,1215.48" fill="#005f00"/>
<polygon points="1526.9,1135.97 1547.9,1160.47 1505.9,1160.47" fill="#005f00"/>
<polygon points="1914.2,651.12 1935.2,675.62 1893.2,675.62" fill="#005f00"/>
<polygon points="1978.75,540.67 1999.75,565.17 1957.75,565.17" fill="#005f00"/>
<polygon points="2043.3,419.99 2064.3,444.49 2022.3,444.49" fill="#005f00"/>
<polygon points="2107.85,280.12 2128.85,304.62 2086.85,304.62" fill="#005f00"/>
<polygon points="2172.4,121.92 2193.4,146.42 2151.4,146.42" fill="#005f00"/>
<rect x="451" y="169.9" width="184" height="8.6" fill="#ff0000"/>
<ellipse cx="543.2" cy="174.2" rx="21.2" ry="16" fill="#ff0000"/>
<g font-family="'Liberation Sans', Arial, sans-serif">
<text y="195" fill="#ff0000" font-size="56.5" transform="scale(0.96300,1)"><tspan x="673.25 722.49 763.55 804.62 845.68 886.74 903.14">Phenol=</tspan><tspan x="946.26 987.32" font-size="55">50</tspan><tspan x="1028.38 1048.89 1110.4 1151.46 1171.97 1213.03 1233.55"> mg/L, </tspan><tspan x="1254.06" font-style="italic">P</tspan><tspan x="1303.3 1327.89 1364.81 1389.39 1430.46 1467.37 1508.43 1524.84">-cresol=</tspan><tspan x="1567.95 1609.01" font-size="55">50</tspan><tspan x="1650.08 1670.59 1732.09 1773.15 1793.67"> mg/L</tspan></text>
</g>
<rect x="492" y="227.9" width="30" height="8.6" fill="#0000d7"/>
<rect x="566" y="227.9" width="59" height="8.6" fill="#0000d7"/>
<rect x="523" y="216.8" width="40.4" height="30.8" fill="#fff" stroke="#0000d7" stroke-width="2"/>
<g font-family="'Liberation Sans', Arial, sans-serif">
<text y="253" fill="#0000d7" font-size="56.5" transform="scale(0.96300,1)"><tspan x="673.25 722.49 763.55 804.62 845.68 886.74 903.14">Phenol=</tspan><tspan x="946.26 987.32 1028.38" font-size="55">100</tspan><tspan x="1069.44 1089.96 1151.46 1192.52 1213.03 1254.1 1274.61"> mg/L, </tspan><tspan x="1295.12" font-style="italic">P</tspan><tspan x="1344.37 1368.95 1405.87 1430.46 1471.52 1508.43 1549.49 1565.9">-cresol=</tspan><tspan x="1609.01 1650.08 1691.14" font-size="55">100</tspan><tspan x="1732.2 1752.71 1814.21 1855.28 1875.79"> mg/L</tspan></text>
</g>
<rect x="492" y="285.9" width="30" height="8.6" fill="#ff0588"/>
<rect x="573" y="285.9" width="52" height="8.6" fill="#ff0588"/>
<rect x="520.95" y="273.2" width="44.5" height="34" fill="#ff0588"/>
<g font-family="'Liberation Sans', Arial, sans-serif">
<text y="311" fill="#ff0588" font-size="56.5" transform="scale(0.96300,1)"><tspan x="673.25 722.49 763.55 804.62 845.68 886.74 903.14">Phenol=</tspan><tspan x="946.26 987.32 1028.38" font-size="55">200</tspan><tspan x="1069.44 1089.96 1151.46 1192.52 1213.03 1254.1 1274.61"> mg/L, </tspan><tspan x="1295.12" font-style="italic">P</tspan><tspan x="1344.37 1368.95 1405.87 1430.46 1471.52 1508.43 1549.49 1565.9">-cresol=</tspan><tspan x="1609.01 1650.08 1691.14" font-size="55">200</tspan><tspan x="1732.2 1752.71 1814.21 1855.28 1875.79"> mg/L</tspan></text>
</g>
<rect x="451" y="344.9" width="27" height="8.6" fill="#008000"/>
<rect x="492" y="344.9" width="26" height="8.6" fill="#008000"/>
<rect x="573" y="344.9" width="26" height="8.6" fill="#008000"/>
<rect x="613" y="344.9" width="22" height="8.6" fill="#008000"/>
<polygon points="543.2,333.8 563.3,349.2 543.2,364.6 523.1,349.2" fill="#fff" stroke="#008000" stroke-width="2.4"/>
<g font-family="'Liberation Sans', Arial, sans-serif">
<text y="370" fill="#008000" font-size="56.5" transform="scale(0.96300,1)"><tspan x="673.25 722.49 763.55 804.62 845.68 886.74 903.14">Phenol=</tspan><tspan x="946.26 987.32 1028.38" font-size="55">300</tspan><tspan x="1069.44 1089.96 1151.46 1192.52 1213.03 1254.1 1274.61"> mg/L, </tspan><tspan x="1295.12" font-style="italic">P</tspan><tspan x="1344.37 1368.95 1405.87 1430.46 1471.52 1508.43 1549.49 1565.9">-cresol=</tspan><tspan x="1609.01 1650.08 1691.14" font-size="55">300</tspan><tspan x="1732.2 1752.71 1814.21 1855.28 1875.79"> mg/L</tspan></text>
</g>
<rect x="451" y="402.9" width="16" height="8.6" fill="#e05e00"/>
<rect x="492" y="402.9" width="16" height="8.6" fill="#e05e00"/>
<rect x="573" y="402.9" width="16" height="8.6" fill="#e05e00"/>
<rect x="613" y="402.9" width="17" height="8.6" fill="#e05e00"/>
<polygon points="543.2,390.7 564.85,407.2 543.2,423.7 521.55,407.2" fill="#e05e00"/>
<g font-family="'Liberation Sans', Arial, sans-serif">
<text y="428" fill="#e05e00" font-size="56.5" transform="scale(0.96300,1)"><tspan x="673.25 722.49 763.55 804.62 845.68 886.74 903.14">Phenol=</tspan><tspan x="946.26 987.32 1028.38" font-size="55">400</tspan><tspan x="1069.44 1089.96 1151.46 1192.52 1213.03 1254.1 1274.61"> mg/L, </tspan><tspan x="1295.12" font-style="italic">P</tspan><tspan x="1344.37 1368.95 1405.87 1430.46 1471.52 1508.43 1549.49 1565.9">-cresol=</tspan><tspan x="1609.01 1650.08 1691.14" font-size="55">400</tspan><tspan x="1732.2 1752.71 1814.21 1855.28 1875.79"> mg/L</tspan></text>
</g>
<rect x="451" y="460.9" width="16" height="8.6" fill="#6d4940"/>
<rect x="522" y="460.9" width="108" height="8.6" fill="#6d4940"/>
<polygon points="543.2,454.25 562.6,476.25 523.8,476.25" fill="#fff" stroke="#6d4940" stroke-width="2.4" stroke-linejoin="miter"/>
<g font-family="'Liberation Sans', Arial, sans-serif">
<text y="486" fill="#6d4940" font-size="56.5" transform="scale(0.96300,1)"><tspan x="673.25 722.49 763.55 804.62 845.68 886.74 903.14">Phenol=</tspan><tspan x="946.26 987.32 1028.38" font-size="55">500</tspan><tspan x="1069.44 1089.96 1151.46 1192.52 1213.03 1254.1 1274.61"> mg/L, </tspan><tspan x="1295.12" font-style="italic">P</tspan><tspan x="1344.37 1368.95 1405.87 1430.46 1471.52 1508.43 1549.49 1565.9">-cresol=</tspan><tspan x="1609.01 1650.08 1691.14" font-size="55">500</tspan><tspan x="1732.2 1752.71 1814.21 1855.28 1875.79"> mg/L</tspan></text>
</g>
<rect x="461" y="518.9" width="17" height="8.6" fill="#005f00"/>
<rect x="492" y="518.9" width="36" height="8.6" fill="#005f00"/>
<rect x="543" y="518.9" width="16" height="8.6" fill="#005f00"/>
<rect x="573" y="518.9" width="37" height="8.6" fill="#005f00"/>
<polygon points="543.2,510.95 564.2,535.45 522.2,535.45" fill="#005f00"/>
<g font-family="'Liberation Sans', Arial, sans-serif">
<text y="544" fill="#005f00" font-size="56.5" transform="scale(0.96300,1)"><tspan x="673.25 722.49 763.55 804.62 845.68 886.74 903.14">Phenol=</tspan><tspan x="946.26 987.32 1028.38" font-size="55">600</tspan><tspan x="1069.44 1089.96 1151.46 1192.52 1213.03 1254.1 1274.61"> mg/L, </tspan><tspan x="1295.12" font-style="italic">P</tspan><tspan x="1344.37 1368.95 1405.87 1430.46 1471.52 1508.43 1549.49 1565.9">-cresol=</tspan><tspan x="1609.01 1650.08 1691.14" font-size="55">600</tspan><tspan x="1732.2 1752.71 1814.21 1855.28 1875.79"> mg/L</tspan></text>
</g>
<text y="1831.8" font-family="'Liberation Serif', 'Times New Roman', serif" font-size="76" fill="#000"><tspan x="1615.7">(</tspan><tspan x="1640.4" font-weight="bold">c</tspan><tspan x="1672">)</tspan></text>
</svg></body></html>
